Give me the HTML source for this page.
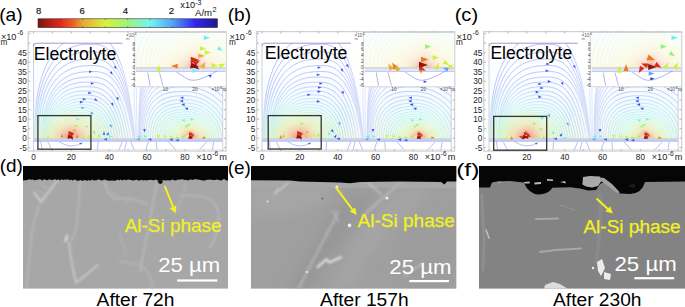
<!DOCTYPE html><html><head><meta charset="utf-8"><style>html,body{margin:0;padding:0;background:#fff;width:685px;height:307px;overflow:hidden}svg{display:block}text{font-family:"Liberation Sans",sans-serif}</style></head><body>
<svg width="685" height="307" viewBox="0 0 685 307">
<defs>
<linearGradient id="cbar" x1="0" x2="1" y1="0" y2="0">
<stop offset="0" stop-color="#7a1410"/><stop offset="0.125" stop-color="#e3291a"/>
<stop offset="0.19" stop-color="#ee5a22"/><stop offset="0.25" stop-color="#e8a834"/>
<stop offset="0.375" stop-color="#d6f23e"/><stop offset="0.5" stop-color="#9ef27a"/>
<stop offset="0.625" stop-color="#72f4f6"/><stop offset="0.75" stop-color="#52a4f4"/>
<stop offset="0.875" stop-color="#3424f2"/><stop offset="1" stop-color="#1e1a8a"/>
</linearGradient>
<radialGradient id="slL" gradientUnits="userSpaceOnUse" cx="71.3" cy="138.2" r="100">
<stop offset="0" stop-color="#f07060"/><stop offset="0.07" stop-color="#f4a888"/><stop offset="0.14" stop-color="#ecdc98"/><stop offset="0.22" stop-color="#c8f0b0"/><stop offset="0.3" stop-color="#98e8f0"/><stop offset="0.42" stop-color="#90c0f8"/><stop offset="0.55" stop-color="#7c8cf2"/><stop offset="1" stop-color="#6470ee"/>
</radialGradient>
<radialGradient id="slR" gradientUnits="userSpaceOnUse" cx="190.5" cy="138.2" r="100">
<stop offset="0" stop-color="#f07060"/><stop offset="0.05" stop-color="#f4a888"/><stop offset="0.1" stop-color="#ecdc98"/><stop offset="0.17" stop-color="#c8f0b0"/><stop offset="0.25" stop-color="#98e8f0"/><stop offset="0.37" stop-color="#90c0f8"/><stop offset="0.5" stop-color="#7c8cf2"/><stop offset="1" stop-color="#6470ee"/>
</radialGradient>
<radialGradient id="sl2" gradientUnits="userSpaceOnUse" cx="194.9" cy="67.5" r="80">
<stop offset="0" stop-color="#e86050"/><stop offset="0.1" stop-color="#f09880"/><stop offset="0.22" stop-color="#f0d890"/><stop offset="0.38" stop-color="#e4f0a0"/><stop offset="0.55" stop-color="#b0eed0"/><stop offset="0.75" stop-color="#a0e8f4"/><stop offset="1" stop-color="#b8e0f8"/>
</radialGradient>
<linearGradient id="wash" x1="0" x2="0" y1="0" y2="1">
<stop offset="0" stop-color="#ffffff" stop-opacity="0"/><stop offset="0.5" stop-color="#eef8ff" stop-opacity="0.5"/><stop offset="0.78" stop-color="#e6fbf6" stop-opacity="0.8"/><stop offset="1" stop-color="#eefbe0" stop-opacity="0.9"/>
</linearGradient>
<linearGradient id="wash2" x1="0" x2="0" y1="0" y2="1">
<stop offset="0" stop-color="#fafefe"/><stop offset="0.6" stop-color="#fdfdf4"/><stop offset="1" stop-color="#fefbf0"/>
</linearGradient>
<radialGradient id="heat">
<stop offset="0" stop-color="#f07c7c" stop-opacity="0.6"/><stop offset="0.22" stop-color="#f6b8b0" stop-opacity="0.5"/><stop offset="0.45" stop-color="#f8e8b8" stop-opacity="0.45"/><stop offset="0.7" stop-color="#f2f8cc" stop-opacity="0.35"/><stop offset="1" stop-color="#eafbe0" stop-opacity="0"/>
</radialGradient>
<radialGradient id="heat2">
<stop offset="0" stop-color="#f09090" stop-opacity="0.28"/><stop offset="0.22" stop-color="#f8c8c0" stop-opacity="0.14"/><stop offset="0.5" stop-color="#faf0d0" stop-opacity="0.08"/><stop offset="1" stop-color="#f8fbe0" stop-opacity="0"/>
</radialGradient>
<clipPath id="elec"><rect x="33.5" y="43.2" width="189.2" height="95.2"/></clipPath>
<clipPath id="elec2"><rect x="135.9" y="33" width="90" height="34.5"/></clipPath>
<filter id="bl" x="-10%" y="-10%" width="120%" height="120%"><feGaussianBlur stdDeviation="0.5"/></filter>
<filter id="bl2" x="-10%" y="-10%" width="120%" height="120%"><feGaussianBlur stdDeviation="6"/></filter>
<filter id="bl3" x="-20%" y="-20%" width="140%" height="140%"><feGaussianBlur stdDeviation="0.9"/></filter>
<linearGradient id="lighten" x1="0" x2="1" y1="0" y2="0"><stop offset="0" stop-color="#fff" stop-opacity="0"/><stop offset="0.3" stop-color="#fff" stop-opacity="0.4"/><stop offset="0.47" stop-color="#fff" stop-opacity="0.7"/><stop offset="0.62" stop-color="#fff" stop-opacity="0.4"/><stop offset="1" stop-color="#fff" stop-opacity="0"/></linearGradient>
<g id="P">
<rect x="28.2" y="31.6" width="197.9" height="119.5" fill="none" stroke="#d2d2d2" stroke-width="1.3"/>
<path d="M28.5 147.7h2M226 147.7h-2M28.5 138.2h2M226 138.2h-2M28.5 128.7h2M226 128.7h-2M28.5 119.2h2M226 119.2h-2M28.5 109.7h2M226 109.7h-2M28.5 100.2h2M226 100.2h-2M28.5 90.7h2M226 90.7h-2M28.5 81.2h2M226 81.2h-2M28.5 71.7h2M226 71.7h-2M28.5 62.2h2M226 62.2h-2M28.5 52.7h2M226 52.7h-2M28.5 43.2h2M226 43.2h-2M28.5 33.7h2M226 33.7h-2M33.5 151v-2M33.5 31.5v2M52.4 151v-2M52.4 31.5v2M71.3 151v-2M71.3 31.5v2M90.3 151v-2M90.3 31.5v2M109.2 151v-2M109.2 31.5v2M128.1 151v-2M128.1 31.5v2M147 151v-2M147 31.5v2M165.9 151v-2M165.9 31.5v2M184.9 151v-2M184.9 31.5v2M203.8 151v-2M203.8 31.5v2M222.7 151v-2M222.7 31.5v2" stroke="#8a8a8a" stroke-width="0.6"/>
<g clip-path="url(#elec)">
<rect x="33.5" y="43.2" width="189.2" height="95" fill="url(#wash)"/>
<ellipse cx="71.3" cy="138.2" rx="50" ry="34" fill="url(#heat)"/>
<ellipse cx="190.5" cy="138.2" rx="30" ry="15" fill="url(#heat)" opacity="0.75"/>
</g>
<path d="M34.8 138.2L35 122.2L35.7 110.4L36.8 100.1L38.3 90.6L40.3 82L42.7 74.1L45.5 66.9L48.7 60.4L52.3 54.7L56.3 49.7L60.7 45.4L63.8 43.2M109.8 43.2L110.9 44.4L113.6 48.3L116.2 52.8L118.6 58.1L120.9 64.1L123.1 70.8L125.2 78.2L127.1 86.5L129 95.8L130.9 106.3L132.7 118.7L135.3 138.2M35.9 138.2L36.2 123.5L36.8 112.7L37.9 103.2L39.4 94.5L41.3 86.6L43.7 79.4L46.4 72.8L49.6 66.9L53.1 61.6L57 57L61.4 53.1L66.1 49.8L71.3 47.3L76.9 45.5L83.4 44.4L92.2 44.1L97.9 44.4L101.7 45.4L105 47L108.1 49.2L110.9 52.2L113.6 55.7L116.1 59.9L118.5 64.7L120.8 70.2L123 76.3L125.1 83.2L127 90.8L128.9 99.3L130.7 108.9L132.5 120.3L135.1 138.2M37.3 138.2L37.5 124.7L38.2 114.8L39.2 106.1L40.7 98.2L42.6 90.9L44.9 84.2L47.5 78.2L50.6 72.8L54.1 67.9L57.9 63.7L62.1 60.1L66.7 57.1L71.8 54.8L77.3 53.2L83.6 52.2L92.2 51.8L97.9 52.1L101.7 53L105 54.5L108 56.6L110.9 59.3L113.5 62.5L116 66.4L118.4 70.8L120.7 75.8L122.9 81.5L124.9 87.7L126.8 94.7L128.7 102.5L130.5 111.3L132.3 121.8L134.8 138.2M38.9 138.2L39.1 125.8L39.7 116.8L40.7 108.7L42.2 101.5L44 94.8L46.2 88.7L48.8 83.2L51.8 78.2L55.2 73.7L58.9 69.8L63 66.6L67.5 63.8L72.4 61.7L77.7 60.2L83.8 59.3L92.2 59L97.9 59.2L101.7 60.1L105 61.4L108 63.3L110.8 65.8L113.4 68.8L115.9 72.3L118.3 76.3L120.6 81L122.7 86.1L124.7 91.9L126.6 98.3L128.4 105.5L130.2 113.5L131.9 123.1L134.3 138.2M40.7 138.2L40.9 126.9L41.5 118.5L42.5 111.2L43.8 104.5L45.6 98.4L47.7 92.8L50.3 87.7L53.1 83.1L56.4 79L60 75.5L64 72.5L68.3 70L73 68L78.2 66.6L84.1 65.8L92.2 65.5L97.9 65.8L101.7 66.5L104.9 67.8L107.9 69.5L110.7 71.8L113.3 74.5L115.8 77.7L118.1 81.5L120.4 85.7L122.5 90.4L124.4 95.7L126.3 101.6L128.1 108.2L129.8 115.6L131.5 124.4L133.8 138.2M42.6 138.2L42.8 127.8L43.4 120.2L44.3 113.4L45.7 107.3L47.4 101.7L49.4 96.5L51.9 91.9L54.6 87.7L57.7 83.9L61.2 80.7L65 77.9L69.2 75.6L73.7 73.8L78.8 72.5L84.4 71.8L92.2 71.5L97.9 71.7L101.6 72.4L104.8 73.6L107.8 75.2L110.6 77.2L113.2 79.8L115.6 82.7L117.9 86.1L120.1 90L122.1 94.4L124.1 99.2L125.9 104.6L127.6 110.6L129.3 117.4L130.9 125.5L133.1 138.2M43.7 138.2L43.9 128.7L44.4 121.7L45.3 115.5L46.6 109.8L48.2 104.7L50.1 100L52.4 95.7L55 91.8L58 88.4L61.3 85.4L64.9 82.9L68.8 80.8L73.1 79.1L77.8 78L83.2 77.3L90.5 77L96.2 77.2L99.9 77.9L103.1 78.9L106 80.4L108.7 82.3L111.3 84.6L113.7 87.3L116 90.4L118.1 94L120.1 98L122 102.4L123.7 107.4L125.4 112.9L127 119.2L128.6 126.6L130.7 138.2M44.8 138.2L45 129.5L45.5 123.1L46.3 117.4L47.5 112.2L49 107.5L50.9 103.2L53 99.2L55.5 95.7L58.3 92.6L61.4 89.8L64.8 87.5L68.5 85.5L72.6 84L77 82.9L82.1 82.3L88.9 82.1L94.5 82.3L98.1 82.9L101.3 83.8L104.2 85.2L106.9 86.9L109.4 89L111.8 91.5L114 94.4L116.1 97.7L118 101.4L119.9 105.5L121.6 110L123.2 115.1L124.7 120.8L126.2 127.6L128.1 138.2M45.9 138.2L46.1 130.5L46.6 124.6L47.4 119.4L48.5 114.7L50 110.3L51.7 106.3L53.8 102.7L56.2 99.4L58.8 96.5L61.7 93.9L65 91.7L68.5 89.9L72.3 88.5L76.5 87.5L81.2 86.9L87.5 86.7L92.8 86.9L96.3 87.4L99.4 88.3L102.3 89.6L105 91.2L107.5 93.2L109.8 95.6L112 98.3L114.1 101.3L116 104.8L117.8 108.6L119.4 112.8L121 117.4L122.4 122.7L123.8 128.9L125.5 138.2M47.1 138.2L47.2 131.3L47.7 126L48.5 121.2L49.6 116.9L50.9 112.9L52.6 109.2L54.6 105.8L56.8 102.7L59.3 100L62.1 97.7L65.2 95.6L68.5 94L72.1 92.7L76 91.7L80.4 91.1L86.1 91L91.1 91.1L94.6 91.6L97.7 92.5L100.5 93.7L103.1 95.2L105.6 97.1L107.9 99.3L110 101.8L112.1 104.6L114 107.8L115.7 111.3L117.3 115.2L118.8 119.5L120.1 124.4L121.4 129.9L123 138.2M48.3 138.2L48.4 132L48.8 127.2L49.6 122.9L50.6 118.9L51.9 115.2L53.5 111.8L55.4 108.6L57.5 105.8L59.9 103.3L62.5 101.1L65.4 99.2L68.6 97.7L71.9 96.4L75.6 95.6L79.7 95L84.9 94.9L89.7 95L93 95.5L96 96.3L98.8 97.4L101.3 98.8L103.7 100.6L106 102.6L108.1 105L110.1 107.6L111.9 110.6L113.6 113.9L115.1 117.5L116.5 121.4L117.8 125.8L119 130.9L120.4 138.2M49.4 138.2L49.6 132.7L50 128.3L50.7 124.3L51.7 120.7L52.9 117.2L54.4 114.1L56.2 111.2L58.2 108.6L60.5 106.3L63 104.2L65.7 102.5L68.6 101L71.8 99.9L75.2 99.1L79 98.6L83.8 98.4L88.3 98.6L91.5 99L94.4 99.8L97.1 100.8L99.6 102.2L102 103.8L104.2 105.7L106.2 107.9L108.1 110.3L109.9 113.1L111.5 116.1L113 119.4L114.3 123.1L115.5 127.1L116.6 131.7L117.7 138.2M50.6 138.2L50.7 133.3L51.1 129.3L51.8 125.6L52.7 122.3L53.9 119.1L55.3 116.2L57 113.6L58.9 111.1L61 109L63.4 107.1L65.9 105.5L68.7 104.1L71.7 103.1L74.9 102.3L78.4 101.9L82.8 101.7L87 101.9L90.1 102.3L92.9 103L95.5 104L97.9 105.2L100.2 106.7L102.3 108.5L104.3 110.5L106.2 112.8L107.9 115.4L109.4 118.2L110.8 121.2L112.1 124.6L113.2 128.3L114.1 132.5L115.1 138.2M51.8 138.2L51.9 133.8L52.3 130.2L52.9 126.8L53.8 123.7L54.9 120.8L56.2 118.2L57.8 115.7L59.6 113.5L61.6 111.5L63.8 109.7L66.2 108.2L68.8 107L71.6 106L74.6 105.3L77.8 104.9L81.8 104.7L85.8 104.9L88.7 105.3L91.4 105.9L94 106.8L96.3 108L98.5 109.4L100.6 111L102.5 112.9L104.3 115.1L105.9 117.4L107.4 120L108.7 122.8L109.8 125.9L110.8 129.3L111.7 133.1L112.6 138.2M52.9 138.2L53 134.2L53.4 130.9L54 127.9L54.8 125L55.9 122.4L57.1 119.9L58.6 117.6L60.3 115.6L62.2 113.7L64.3 112.1L66.5 110.7L68.9 109.6L71.5 108.7L74.3 108L77.3 107.6L80.9 107.5L84.6 107.6L87.5 108L90.1 108.6L92.5 109.4L94.7 110.5L96.8 111.8L98.8 113.4L100.7 115.1L102.4 117.1L103.9 119.3L105.3 121.7L106.5 124.3L107.6 127.1L108.5 130.2L109.3 133.7L110 138.2M54.1 138.2L54.2 134.6L54.5 131.6L55.1 128.8L55.8 126.2L56.8 123.8L58 121.5L59.4 119.4L61 117.5L62.7 115.8L64.7 114.3L66.8 113L69.1 111.9L71.5 111.1L74.1 110.5L76.9 110.2L80.2 110L83.6 110.1L86.3 110.5L88.7 111L91 111.8L93.2 112.8L95.2 114.1L97.1 115.5L98.9 117.1L100.5 118.9L101.9 121L103.3 123.2L104.4 125.6L105.4 128.2L106.3 131L106.9 134.1L107.6 138.2M55.2 138.2L55.3 135L55.6 132.2L56.1 129.7L56.8 127.3L57.7 125L58.9 123L60.2 121L61.6 119.3L63.3 117.7L65.1 116.3L67.1 115.1L69.2 114.1L71.4 113.4L73.8 112.8L76.4 112.5L79.4 112.4L82.6 112.5L85.2 112.8L87.5 113.3L89.7 114L91.7 115L93.7 116.1L95.5 117.4L97.1 118.9L98.6 120.6L100 122.5L101.3 124.5L102.3 126.7L103.3 129.1L104 131.7L104.6 134.6L105.2 138.2M56.2 138.2L56.3 135.3L56.6 132.8L57.1 130.5L57.8 128.3L58.6 126.2L59.7 124.3L60.9 122.5L62.3 120.9L63.8 119.4L65.5 118.1L67.4 117L69.3 116.1L71.4 115.4L73.6 114.9L76 114.6L78.8 114.5L81.7 114.6L84.1 114.9L86.3 115.4L88.4 116L90.3 116.9L92.2 118L93.9 119.2L95.4 120.6L96.9 122.2L98.2 123.9L99.3 125.8L100.3 127.8L101.2 130L101.9 132.4L102.4 135L102.9 138.2M57.2 138.2L57.3 135.6L57.6 133.3L58.1 131.2L58.7 129.2L59.5 127.3L60.5 125.5L61.6 123.8L62.9 122.3L64.3 121L65.9 119.8L67.6 118.8L69.4 118L71.4 117.3L73.4 116.8L75.6 116.5L78.1 116.4L80.9 116.5L83.1 116.8L85.2 117.3L87.2 117.9L89 118.7L90.7 119.7L92.3 120.8L93.8 122.1L95.1 123.5L96.4 125.1L97.4 126.9L98.4 128.7L99.2 130.8L99.8 132.9L100.3 135.3L100.6 138.2M58.2 138.2L58.3 135.8L58.6 133.8L59 131.8L59.6 129.9L60.3 128.2L61.2 126.6L62.3 125.1L63.5 123.7L64.8 122.5L66.3 121.4L67.9 120.4L69.6 119.6L71.4 119L73.3 118.6L75.3 118.3L77.6 118.2L80.1 118.3L82.2 118.6L84.1 119L86 119.6L87.7 120.3L89.3 121.2L90.8 122.3L92.2 123.5L93.5 124.8L94.6 126.3L95.6 127.9L96.5 129.6L97.2 131.5L97.8 133.4L98.2 135.6L98.5 138.2M59.1 138.2L59.2 136.1L59.5 134.2L59.9 132.4L60.4 130.7L61.1 129.1L62 127.6L62.9 126.2L64.1 124.9L65.3 123.8L66.7 122.8L68.1 121.9L69.7 121.2L71.4 120.6L73.1 120.2L75 120L77.1 119.9L79.4 120L81.3 120.2L83.2 120.6L84.9 121.1L86.5 121.8L88 122.7L89.4 123.6L90.7 124.7L91.9 126L93 127.3L93.9 128.8L94.7 130.4L95.4 132.1L95.9 133.9L96.3 135.9L96.5 138.2M60 138.2L60.1 136.3L60.3 134.5L60.7 132.9L61.2 131.3L61.9 129.9L62.6 128.5L63.6 127.2L64.6 126L65.8 125L67 124.1L68.4 123.3L69.8 122.6L71.4 122.1L73 121.7L74.7 121.5L76.6 121.4L78.7 121.5L80.5 121.7L82.2 122.1L83.8 122.6L85.4 123.2L86.8 124L88.1 124.9L89.3 125.9L90.4 127L91.4 128.3L92.3 129.6L93 131.1L93.6 132.6L94.1 134.3L94.5 136.1L94.7 138.2M60.9 138.2L60.9 136.5L61.1 134.9L61.5 133.4L62 131.9L62.6 130.6L63.3 129.3L64.1 128.1L65.1 127.1L66.2 126.1L67.3 125.2L68.6 124.5L69.9 123.9L71.4 123.4L72.9 123.1L74.4 122.9L76.2 122.8L78.1 122.9L79.8 123.1L81.4 123.4L82.9 123.9L84.3 124.4L85.6 125.2L86.8 126L88 126.9L89 128L89.9 129.1L90.7 130.4L91.4 131.7L92 133.2L92.4 134.7L92.7 136.3L92.9 138.2M61.6 138.2L61.7 136.6L61.9 135.2L62.2 133.8L62.7 132.5L63.2 131.2L63.9 130.1L64.7 129L65.6 128L66.6 127.1L67.6 126.3L68.8 125.6L70 125.1L71.4 124.6L72.7 124.3L74.2 124.1L75.8 124.1L77.5 124.1L79.1 124.3L80.6 124.6L82 125L83.3 125.6L84.5 126.2L85.7 127L86.7 127.9L87.7 128.9L88.5 129.9L89.3 131.1L89.9 132.3L90.4 133.6L90.8 135L91.1 136.5L91.2 138.2M62.4 138.2L62.4 136.8L62.6 135.4L62.9 134.2L63.3 133L63.8 131.8L64.5 130.8L65.2 129.8L66 128.9L66.9 128L67.9 127.3L69 126.7L70.2 126.2L71.4 125.8L72.6 125.5L74 125.3L75.4 125.2L77 125.3L78.5 125.5L79.8 125.7L81.1 126.1L82.3 126.6L83.5 127.2L84.5 128L85.5 128.8L86.4 129.7L87.2 130.6L87.9 131.7L88.5 132.8L89 134L89.3 135.3L89.6 136.7L89.7 138.2M63.1 138.2L63.1 136.9L63.3 135.7L63.6 134.5L63.9 133.4L64.4 132.4L65 131.4L65.7 130.5L66.4 129.6L67.3 128.9L68.2 128.2L69.2 127.6L70.2 127.2L71.4 126.8L72.5 126.5L73.7 126.4L75.1 126.3L76.6 126.4L77.9 126.5L79.1 126.8L80.3 127.1L81.5 127.6L82.5 128.2L83.5 128.8L84.4 129.6L85.3 130.4L86 131.3L86.6 132.3L87.2 133.3L87.6 134.4L87.9 135.6L88.1 136.8L88.3 138.2M63.7 138.2L63.8 137L63.9 135.9L64.2 134.8L64.5 133.8L65 132.9L65.5 132L66.1 131.1L66.8 130.4L67.6 129.7L68.5 129L69.4 128.5L70.3 128.1L71.4 127.7L72.4 127.5L73.6 127.3L74.8 127.3L76.1 127.3L77.3 127.5L78.5 127.7L79.6 128.1L80.7 128.5L81.6 129L82.6 129.6L83.4 130.3L84.2 131L84.8 131.9L85.4 132.8L85.9 133.7L86.3 134.7L86.6 135.8L86.8 136.9L86.9 138.2M64.3 138.2L64.3 137.1L64.5 136.1L64.7 135.1L65 134.2L65.5 133.3L66 132.5L66.5 131.7L67.2 131L67.9 130.4L68.7 129.8L69.5 129.3L70.4 128.9L71.4 128.6L72.3 128.4L73.4 128.2L74.5 128.2L75.7 128.2L76.8 128.4L77.9 128.6L78.9 128.9L79.9 129.3L80.8 129.8L81.7 130.3L82.4 131L83.1 131.7L83.8 132.4L84.3 133.2L84.8 134.1L85.1 135L85.4 136L85.6 137.1L85.7 138.2M64.9 138.2L64.9 137.2L65 136.3L65.2 135.4L65.5 134.6L65.9 133.7L66.4 133L66.9 132.3L67.5 131.6L68.2 131L68.9 130.5L69.7 130.1L70.5 129.7L71.4 129.4L72.3 129.2L73.2 129.1L74.2 129L75.4 129.1L76.4 129.2L77.4 129.4L78.3 129.7L79.2 130L80 130.5L80.8 131L81.6 131.6L82.2 132.2L82.8 132.9L83.3 133.7L83.7 134.5L84 135.3L84.3 136.2L84.5 137.2L84.5 138.2M65.4 138.2L65.4 137.3L65.5 136.5L65.7 135.6L66 134.9L66.4 134.1L66.8 133.4L67.3 132.8L67.8 132.2L68.4 131.6L69.1 131.1L69.8 130.7L70.6 130.4L71.4 130.1L72.2 129.9L73.1 129.8L74 129.8L75 129.8L76 129.9L76.9 130.1L77.7 130.4L78.6 130.7L79.3 131.1L80.1 131.6L80.7 132.1L81.3 132.7L81.9 133.4L82.3 134.1L82.7 134.8L83 135.6L83.3 136.4L83.4 137.3L83.5 138.2M65.8 138.2L65.9 137.4L66 136.6L66.2 135.9L66.4 135.1L66.8 134.5L67.1 133.8L67.6 133.2L68.1 132.7L68.7 132.2L69.3 131.7L69.9 131.4L70.6 131L71.4 130.8L72.1 130.6L72.9 130.5L73.8 130.5L74.7 130.5L75.6 130.6L76.4 130.8L77.2 131L78 131.3L78.7 131.7L79.4 132.1L80 132.6L80.5 133.2L81 133.8L81.4 134.4L81.8 135.1L82.1 135.8L82.3 136.6L82.4 137.3L82.5 138.2M66.3 138.2L66.3 137.5L66.4 136.7L66.6 136.1L66.8 135.4L67.1 134.8L67.5 134.2L67.9 133.6L68.4 133.1L68.9 132.7L69.4 132.3L70.1 131.9L70.7 131.6L71.4 131.4L72.1 131.2L72.8 131.1L73.6 131.1L74.4 131.1L75.2 131.2L76 131.4L76.7 131.6L77.4 131.9L78.1 132.2L78.7 132.6L79.3 133.1L79.8 133.6L80.2 134.1L80.6 134.7L81 135.4L81.2 136L81.4 136.7L81.5 137.4L81.6 138.2M66.7 138.2L66.7 137.5L66.8 136.9L67 136.2L67.2 135.6L67.5 135.1L67.8 134.5L68.2 134L68.6 133.6L69.1 133.1L69.6 132.8L70.2 132.4L70.8 132.2L71.4 132L72 131.8L72.7 131.7L73.4 131.7L74.2 131.7L74.9 131.8L75.6 132L76.3 132.2L76.9 132.4L77.5 132.7L78.1 133.1L78.6 133.5L79.1 134L79.5 134.5L79.9 135L80.2 135.6L80.4 136.2L80.6 136.8L80.7 137.5L80.8 138.2M67.1 138.2L67.1 137.6L67.2 137L67.3 136.4L67.5 135.9L67.8 135.3L68.1 134.8L68.4 134.4L68.8 133.9L69.3 133.6L69.7 133.2L70.3 132.9L70.8 132.7L71.4 132.5L72 132.3L72.6 132.3L73.2 132.2L73.9 132.3L74.6 132.3L75.3 132.5L75.9 132.7L76.5 132.9L77 133.2L77.5 133.5L78 133.9L78.5 134.3L78.9 134.8L79.2 135.3L79.5 135.8L79.7 136.4L79.8 137L79.9 137.6L80 138.2M67.4 138.2L67.4 137.6L67.5 137.1L67.7 136.6L67.8 136.1L68.1 135.6L68.3 135.1L68.7 134.7L69 134.3L69.4 133.9L69.9 133.6L70.3 133.4L70.8 133.1L71.4 133L71.9 132.8L72.5 132.7L73.1 132.7L73.7 132.7L74.3 132.8L74.9 132.9L75.5 133.1L76 133.3L76.6 133.6L77 133.9L77.5 134.3L77.9 134.7L78.2 135.1L78.5 135.5L78.8 136L79 136.5L79.2 137.1L79.2 137.6L79.3 138.2M67.7 138.2L67.8 137.7L67.8 137.2L68 136.7L68.1 136.2L68.3 135.8L68.6 135.4L68.9 135L69.2 134.6L69.6 134.3L70 134L70.4 133.8L70.9 133.5L71.4 133.4L71.9 133.3L72.4 133.2L72.9 133.2L73.5 133.2L74.1 133.3L74.6 133.4L75.2 133.5L75.7 133.7L76.1 134L76.6 134.3L77 134.6L77.3 135L77.7 135.4L78 135.8L78.2 136.2L78.4 136.7L78.5 137.2L78.6 137.7L78.6 138.2M68 138.2L68.1 137.7L68.1 137.3L68.2 136.8L68.4 136.4L68.6 136L68.8 135.6L69.1 135.2L69.4 134.9L69.7 134.6L70.1 134.4L70.5 134.1L70.9 133.9L71.4 133.8L71.8 133.7L72.3 133.6L72.8 133.6L73.3 133.6L73.9 133.7L74.4 133.8L74.8 133.9L75.3 134.1L75.7 134.3L76.1 134.6L76.5 134.9L76.9 135.2L77.2 135.6L77.4 136L77.6 136.4L77.8 136.8L77.9 137.3L78 137.7L78 138.2M68.3 138.2L68.3 137.8L68.4 137.3L68.5 136.9L68.6 136.6L68.8 136.2L69 135.8L69.3 135.5L69.6 135.2L69.9 134.9L70.2 134.7L70.6 134.5L71 134.3L71.4 134.1L71.8 134L72.2 134L72.7 134L73.2 134L73.6 134L74.1 134.1L74.5 134.3L75 134.5L75.4 134.7L75.7 134.9L76.1 135.2L76.4 135.5L76.7 135.8L76.9 136.2L77.1 136.5L77.3 136.9L77.4 137.3L77.5 137.8L77.5 138.2M68.5 138.2L68.6 137.8L68.6 137.4L68.7 137L68.8 136.7L69 136.3L69.2 136L69.4 135.7L69.7 135.4L70 135.2L70.3 135L70.6 134.8L71 134.6L71.4 134.5L71.8 134.4L72.1 134.3L72.6 134.3L73 134.3L73.4 134.4L73.9 134.5L74.3 134.6L74.7 134.8L75 135L75.4 135.2L75.7 135.4L76 135.7L76.2 136L76.5 136.3L76.6 136.7L76.8 137L76.9 137.4L77 137.8L77 138.2" fill="none" stroke="url(#slL)" stroke-width="0.45"/>
<path d="M138.7 138.2L138.8 117.2L139.3 103.9L140.1 92.7L141.2 82.7L142.6 73.8L144.4 65.8L146.4 58.6L148.8 52.2L151.5 46.5L153.5 43.2M138.8 138.2L138.9 119.1L139.4 107L140.2 96.8L141.3 87.8L142.7 79.7L144.5 72.4L146.5 65.8L148.9 60L151.6 54.8L154.6 50.4L157.9 46.6L161.7 43.5L162.2 43.2M139 138.2L139.1 120.9L139.6 109.9L140.4 100.6L141.5 92.3L142.9 85L144.6 78.3L146.7 72.4L149 67.1L151.7 62.4L154.7 58.4L158 54.9L161.7 52.1L165.9 49.9L170.6 48.4L176.1 47.4L184.9 47.1L193.7 47.6L202.6 48.9L211.2 51L219.6 54.1L222.7 55.5M139.2 138.2L139.4 122.4L139.9 112.4L140.6 104L141.7 96.5L143.1 89.8L144.9 83.8L146.9 78.4L149.2 73.6L151.9 69.3L154.9 65.6L158.2 62.5L161.9 60L166 58L170.7 56.5L176.2 55.7L184.9 55.4L192.9 55.8L200.9 57L208.8 59L216.4 61.7L222.7 64.7M139.6 138.2L139.8 123.9L140.3 114.8L141 107.1L142.1 100.3L143.5 94.2L145.2 88.7L147.2 83.8L149.5 79.4L152.2 75.6L155.1 72.2L158.4 69.4L162.1 67.1L166.2 65.3L170.8 64L176.3 63.2L184.9 62.9L192.2 63.3L199.5 64.4L206.6 66.2L213.5 68.7L220.2 71.8L222.7 73.3M140.2 138.2L140.3 125.2L140.8 116.9L141.6 109.9L142.6 103.7L144 98.2L145.7 93.2L147.7 88.8L150 84.8L152.6 81.3L155.5 78.2L158.7 75.6L162.4 73.5L166.4 71.9L171 70.7L176.4 70L184.9 69.8L191.5 70.1L198.2 71.1L204.6 72.7L210.9 75L217 77.9L222.7 81.3M140.9 138.2L141 126.4L141.5 118.8L142.2 112.5L143.3 106.9L144.7 101.8L146.3 97.3L148.3 93.3L150.5 89.6L153.1 86.4L156 83.7L159.2 81.3L162.7 79.4L166.7 77.9L171.2 76.9L176.5 76.2L184.9 76L190.9 76.3L196.9 77.2L202.8 78.7L208.6 80.7L214.1 83.3L219.3 86.5L222.7 89M141.8 138.2L141.9 127.4L142.4 120.6L143.1 114.8L144.2 109.7L145.5 105.2L147.1 101L149 97.3L151.2 94.1L153.7 91.1L156.6 88.6L159.7 86.5L163.2 84.8L167.1 83.4L171.5 82.4L176.7 81.8L184.9 81.6L190.4 81.9L195.8 82.7L201.2 84.1L206.4 86L211.4 88.3L216.1 91.2L220.6 94.5L222.7 96.4M142.9 138.2L143 128.4L143.5 122.2L144.2 117L145.2 112.3L146.5 108.2L148.1 104.4L149.9 101.1L152.1 98.1L154.5 95.4L157.3 93.1L160.3 91.2L163.7 89.6L167.5 88.4L171.8 87.5L176.9 87L184.9 86.8L189.9 87L194.8 87.8L199.7 89L204.5 90.7L209 92.9L213.3 95.5L217.3 98.5L221.1 101.8L222.7 103.7M144.3 138.2L144.4 129.4L144.8 123.7L145.5 119L146.5 114.7L147.8 111L149.3 107.5L151.1 104.5L153.2 101.8L155.6 99.3L158.3 97.3L161.2 95.5L164.5 94L168.2 92.9L172.4 92.1L177.3 91.6L185 91.5L189.5 91.7L194 92.4L198.5 93.5L202.8 95L206.9 97L210.8 99.3L214.5 102.1L217.9 105.2L220.9 108.6L222.7 111M146.2 138.2L146.4 130.5L146.8 125.4L147.5 121.1L148.5 117.3L149.7 113.8L151.2 110.6L153 107.8L155.1 105.3L157.4 103.1L160 101.1L162.9 99.5L166.1 98.1L169.7 97.1L173.7 96.3L178.4 95.9L185.5 95.7L189.6 95.9L193.7 96.5L197.7 97.5L201.6 98.9L205.4 100.7L209 102.9L212.3 105.4L215.4 108.2L218.2 111.2L220.6 114.6L222.7 118.1M148.3 138.2L148.5 131.5L148.9 126.9L149.6 123L150.5 119.5L151.7 116.3L153.2 113.4L155 110.8L157 108.5L159.3 106.4L161.8 104.6L164.6 103.1L167.7 101.8L171.1 100.8L175 100.1L179.4 99.7L185.9 99.6L189.7 99.8L193.4 100.3L197.1 101.2L200.6 102.5L204.1 104.1L207.3 106.1L210.3 108.3L213.1 110.9L215.7 113.7L217.9 116.7L219.8 120L221.5 123.4L222.7 126.9M150.5 138.2L150.7 132.4L151.1 128.3L151.7 124.7L152.7 121.5L153.8 118.5L155.3 115.9L157 113.5L158.9 111.3L161.1 109.4L163.6 107.7L166.3 106.3L169.3 105.2L172.6 104.3L176.2 103.6L180.4 103.2L186.3 103.1L189.8 103.3L193.2 103.8L196.5 104.6L199.7 105.8L202.8 107.2L205.8 109L208.5 111.1L211.1 113.4L213.4 115.9L215.4 118.7L217.2 121.6L218.6 124.8L219.8 128L220.6 131.3L221.1 134.8L221.3 138.2M152.8 138.2L152.9 133.1L153.3 129.4L153.9 126.2L154.8 123.2L156 120.6L157.4 118.1L159 115.9L160.9 113.9L163 112.1L165.4 110.6L168 109.3L170.8 108.2L173.9 107.4L177.4 106.8L181.3 106.4L186.7 106.3L189.8 106.4L192.9 106.9L195.9 107.7L198.9 108.7L201.7 110L204.4 111.7L206.9 113.5L209.2 115.6L211.3 117.9L213.2 120.5L214.8 123.2L216.1 126L217.1 128.9L217.9 132L218.4 135.1L218.5 138.2M155.1 138.2L155.2 133.7L155.6 130.4L156.2 127.5L157 124.8L158.1 122.3L159.5 120.1L161.1 118.1L162.8 116.2L164.9 114.6L167.1 113.2L169.6 112L172.3 111L175.2 110.2L178.5 109.6L182.1 109.3L187.1 109.2L189.9 109.3L192.7 109.7L195.5 110.4L198.1 111.4L200.7 112.6L203.1 114.1L205.4 115.8L207.5 117.7L209.4 119.8L211.1 122.1L212.6 124.5L213.8 127.1L214.7 129.8L215.4 132.5L215.8 135.4L216 138.2M157.4 138.2L157.5 134.3L157.8 131.3L158.4 128.6L159.2 126.2L160.3 123.9L161.6 121.9L163.1 120L164.8 118.3L166.7 116.8L168.8 115.5L171.2 114.4L173.7 113.5L176.5 112.8L179.5 112.2L182.9 111.9L187.4 111.8L190 111.9L192.5 112.3L195 113L197.4 113.8L199.8 114.9L202 116.3L204 117.8L206 119.5L207.7 121.5L209.2 123.5L210.6 125.8L211.7 128.1L212.5 130.5L213.1 133.1L213.5 135.6L213.7 138.2M159.6 138.2L159.7 134.7L160.1 132L160.6 129.6L161.4 127.4L162.4 125.4L163.6 123.5L165 121.8L166.6 120.2L168.5 118.8L170.5 117.6L172.7 116.6L175.1 115.7L177.6 115.1L180.5 114.6L183.6 114.3L187.7 114.2L190 114.3L192.3 114.7L194.6 115.2L196.8 116L198.9 117L200.9 118.3L202.8 119.7L204.6 121.2L206.1 123L207.5 124.9L208.7 126.9L209.7 129L210.5 131.2L211.1 133.5L211.4 135.8L211.6 138.2M161.8 138.2L161.9 135.1L162.2 132.7L162.8 130.5L163.5 128.5L164.5 126.7L165.6 124.9L166.9 123.4L168.5 121.9L170.2 120.7L172 119.5L174.1 118.6L176.3 117.8L178.7 117.2L181.4 116.8L184.3 116.5L187.9 116.4L190.1 116.5L192.2 116.8L194.2 117.3L196.2 118.1L198.2 119L200 120.1L201.7 121.3L203.3 122.8L204.7 124.4L206 126.1L207.1 127.9L208 129.9L208.7 131.9L209.2 133.9L209.5 136.1L209.6 138.2M164 138.2L164.1 135.5L164.4 133.3L164.9 131.3L165.5 129.5L166.4 127.8L167.5 126.2L168.7 124.8L170.2 123.5L171.8 122.3L173.5 121.3L175.5 120.4L177.5 119.7L179.8 119.1L182.2 118.7L184.9 118.5L188.2 118.4L190.1 118.5L192 118.8L193.9 119.2L195.7 119.9L197.5 120.7L199.1 121.7L200.7 122.9L202.1 124.2L203.4 125.6L204.6 127.2L205.6 128.9L206.4 130.6L207.1 132.4L207.5 134.3L207.8 136.3L207.9 138.2M166 138.2L166.1 135.8L166.4 133.8L166.8 132L167.5 130.4L168.3 128.8L169.3 127.4L170.5 126.1L171.8 124.9L173.3 123.8L174.9 122.8L176.7 122L178.7 121.4L180.7 120.9L183 120.5L185.4 120.3L188.4 120.2L190.1 120.3L191.9 120.5L193.6 121L195.2 121.6L196.8 122.3L198.4 123.2L199.8 124.3L201.1 125.5L202.3 126.8L203.3 128.2L204.2 129.7L205 131.3L205.6 133L206 134.7L206.2 136.4L206.3 138.2M167.9 138.2L168 136.1L168.3 134.3L168.7 132.7L169.3 131.2L170.1 129.7L171 128.4L172.1 127.2L173.4 126.1L174.7 125.1L176.3 124.3L177.9 123.5L179.7 122.9L181.6 122.4L183.7 122.1L185.9 121.9L188.6 121.8L190.2 121.9L191.8 122.1L193.3 122.5L194.8 123.1L196.3 123.8L197.6 124.6L198.9 125.5L200.1 126.6L201.2 127.8L202.1 129.1L203 130.5L203.6 131.9L204.2 133.4L204.6 135L204.8 136.6L204.9 138.2M169.8 138.2L169.8 136.3L170.1 134.7L170.5 133.2L171 131.9L171.8 130.6L172.6 129.4L173.6 128.3L174.8 127.3L176.1 126.4L177.5 125.6L179 124.9L180.7 124.3L182.4 123.9L184.3 123.6L186.3 123.4L188.8 123.3L190.2 123.4L191.6 123.6L193.1 123.9L194.4 124.4L195.7 125.1L197 125.8L198.2 126.7L199.2 127.7L200.2 128.8L201.1 129.9L201.8 131.2L202.5 132.5L202.9 133.9L203.3 135.3L203.5 136.7L203.6 138.2M171.5 138.2L171.5 136.5L171.8 135.1L172.1 133.7L172.7 132.5L173.3 131.3L174.1 130.2L175.1 129.2L176.1 128.3L177.3 127.5L178.6 126.7L180 126.1L181.6 125.6L183.2 125.2L184.9 124.9L186.7 124.7L188.9 124.7L190.2 124.7L191.5 124.9L192.8 125.2L194.1 125.7L195.3 126.3L196.4 126.9L197.5 127.7L198.5 128.6L199.3 129.6L200.1 130.7L200.8 131.8L201.4 133L201.8 134.3L202.1 135.6L202.3 136.9L202.4 138.2M173.1 138.2L173.1 136.7L173.3 135.4L173.7 134.2L174.2 133L174.8 132L175.5 131L176.4 130.1L177.4 129.2L178.5 128.5L179.7 127.8L181 127.2L182.4 126.7L183.9 126.4L185.4 126.1L187.1 125.9L189.1 125.9L190.3 126L191.5 126.1L192.6 126.4L193.8 126.8L194.8 127.3L195.9 128L196.8 128.7L197.7 129.5L198.5 130.4L199.3 131.4L199.9 132.4L200.4 133.5L200.8 134.6L201.1 135.8L201.3 137L201.3 138.2M174.6 138.2L174.6 136.9L174.8 135.7L175.1 134.6L175.6 133.5L176.1 132.6L176.8 131.7L177.6 130.8L178.5 130L179.5 129.4L180.6 128.7L181.8 128.2L183.1 127.8L184.5 127.5L185.9 127.2L187.4 127.1L189.2 127L190.3 127.1L191.4 127.2L192.4 127.5L193.5 127.9L194.5 128.3L195.4 128.9L196.3 129.6L197.1 130.3L197.8 131.1L198.5 132L199 132.9L199.5 133.9L199.9 135L200.1 136L200.3 137.1L200.3 138.2M175.9 138.2L176 137L176.2 135.9L176.5 134.9L176.9 134L177.4 133.1L178 132.3L178.8 131.5L179.6 130.8L180.5 130.2L181.5 129.6L182.6 129.1L183.8 128.7L185 128.4L186.3 128.2L187.7 128.1L189.3 128L190.3 128.1L191.3 128.2L192.3 128.5L193.2 128.8L194.1 129.2L194.9 129.7L195.7 130.3L196.5 131L197.1 131.7L197.7 132.5L198.3 133.4L198.7 134.3L199 135.2L199.3 136.2L199.4 137.2L199.4 138.2M177.2 138.2L177.3 137.1L177.4 136.2L177.7 135.3L178.1 134.4L178.5 133.6L179.1 132.8L179.8 132.1L180.6 131.5L181.4 130.9L182.3 130.4L183.3 130L184.4 129.6L185.5 129.3L186.7 129.1L188 129L189.4 129L190.3 129L191.2 129.1L192.1 129.4L193 129.7L193.8 130L194.5 130.5L195.3 131.1L195.9 131.7L196.5 132.3L197.1 133.1L197.6 133.8L197.9 134.7L198.2 135.5L198.5 136.4L198.6 137.3L198.6 138.2M178.4 138.2L178.4 137.2L178.6 136.4L178.8 135.6L179.2 134.8L179.6 134L180.1 133.3L180.7 132.7L181.5 132.1L182.2 131.6L183.1 131.1L184 130.7L185 130.4L186 130.1L187.1 129.9L188.3 129.8L189.5 129.8L190.4 129.8L191.2 130L192 130.2L192.7 130.4L193.5 130.8L194.2 131.2L194.8 131.7L195.5 132.3L196 132.9L196.5 133.5L196.9 134.2L197.3 135L197.5 135.8L197.7 136.6L197.9 137.4L197.9 138.2M179.4 138.2L179.5 137.3L179.6 136.6L179.8 135.8L180.2 135.1L180.6 134.4L181.1 133.8L181.6 133.2L182.3 132.7L183 132.2L183.8 131.8L184.6 131.4L185.5 131.1L186.4 130.9L187.4 130.7L188.5 130.6L189.6 130.6L190.4 130.6L191.1 130.7L191.8 130.9L192.5 131.1L193.2 131.5L193.9 131.8L194.5 132.3L195 132.8L195.5 133.4L195.9 134L196.3 134.6L196.7 135.3L196.9 136L197.1 136.7L197.2 137.5L197.2 138.2M180.4 138.2L180.5 137.4L180.6 136.7L180.8 136L181.1 135.4L181.5 134.8L181.9 134.2L182.4 133.7L183 133.2L183.7 132.8L184.4 132.4L185.1 132L186 131.8L186.8 131.5L187.7 131.4L188.7 131.3L189.7 131.3L190.4 131.3L191.1 131.4L191.7 131.6L192.4 131.8L193 132.1L193.5 132.4L194.1 132.8L194.6 133.3L195.1 133.8L195.5 134.3L195.8 134.9L196.1 135.5L196.3 136.2L196.5 136.8L196.6 137.5L196.6 138.2M181.3 138.2L181.4 137.5L181.5 136.9L181.7 136.2L181.9 135.7L182.3 135.1L182.7 134.6L183.2 134.1L183.7 133.7L184.3 133.3L184.9 132.9L185.6 132.6L186.4 132.3L187.2 132.1L188 132L188.8 131.9L189.8 131.9L190.4 131.9L191 132L191.6 132.2L192.2 132.4L192.7 132.6L193.3 132.9L193.8 133.3L194.2 133.7L194.6 134.2L195 134.7L195.3 135.2L195.6 135.8L195.8 136.4L195.9 137L196 137.6L196.1 138.2M182.1 138.2L182.2 137.6L182.3 137L182.5 136.4L182.7 135.9L183 135.4L183.4 134.9L183.8 134.5L184.3 134.1L184.9 133.7L185.4 133.4L186.1 133.1L186.8 132.9L187.5 132.7L188.2 132.6L189 132.5L189.8 132.5L190.4 132.5L191 132.6L191.5 132.7L192 132.9L192.5 133.1L193 133.4L193.5 133.8L193.9 134.1L194.3 134.6L194.6 135L194.9 135.5L195.1 136L195.3 136.5L195.5 137.1L195.5 137.6L195.6 138.2M182.9 138.2L182.9 137.6L183 137.1L183.2 136.6L183.4 136.1L183.7 135.7L184 135.2L184.4 134.8L184.9 134.5L185.4 134.1L185.9 133.8L186.5 133.6L187.1 133.4L187.8 133.2L188.4 133.1L189.2 133L189.9 133L190.4 133L190.9 133.1L191.4 133.2L191.9 133.4L192.4 133.6L192.8 133.9L193.2 134.2L193.6 134.5L193.9 134.9L194.2 135.3L194.5 135.7L194.7 136.2L194.9 136.7L195 137.2L195.1 137.7L195.1 138.2M183.6 138.2L183.6 137.7L183.7 137.2L183.8 136.8L184 136.3L184.3 135.9L184.6 135.5L185 135.1L185.4 134.8L185.8 134.5L186.3 134.2L186.9 134L187.4 133.8L188 133.7L188.6 133.5L189.3 133.5L190 133.5L190.4 133.5L190.9 133.5L191.3 133.7L191.8 133.8L192.2 134L192.6 134.3L193 134.5L193.3 134.8L193.6 135.2L193.9 135.6L194.1 136L194.3 136.4L194.5 136.8L194.6 137.3L194.7 137.7L194.7 138.2M184.2 138.2L184.2 137.7L184.3 137.3L184.4 136.9L184.6 136.5L184.9 136.1L185.2 135.8L185.5 135.4L185.9 135.1L186.3 134.8L186.7 134.6L187.2 134.4L187.7 134.2L188.3 134.1L188.8 134L189.4 133.9L190 133.9L190.4 133.9L190.9 134L191.3 134.1L191.7 134.2L192 134.4L192.4 134.6L192.7 134.9L193.1 135.1L193.3 135.5L193.6 135.8L193.8 136.2L194 136.5L194.1 136.9L194.2 137.4L194.3 137.8L194.3 138.2M184.8 138.2L184.8 137.8L184.9 137.4L185 137L185.2 136.7L185.4 136.3L185.6 136L185.9 135.7L186.3 135.4L186.7 135.1L187.1 134.9L187.5 134.7L188 134.6L188.5 134.4L189 134.4L189.5 134.3L190.1 134.3L190.5 134.3L190.8 134.4L191.2 134.4L191.6 134.6L191.9 134.7L192.2 134.9L192.5 135.2L192.8 135.4L193.1 135.7L193.3 136L193.5 136.4L193.7 136.7L193.8 137.1L193.9 137.4L194 137.8L194 138.2" fill="none" stroke="url(#slR)" stroke-width="0.45"/>
<rect x="112" y="60" width="52" height="78.4" fill="url(#lighten)"/>
<path d="M134.2 88Q134.2 120 136.6 138.2M136.4 88Q136.4 120 137.2 138.2" fill="none" stroke="#b8c4f6" stroke-width="0.4"/>
<path d="M33.5 43.2V149.6M222.7 43.2V149.6" stroke="#c4c4dc" stroke-width="0.8"/>
<path d="M33.5 46.2Q33.5 43.2 36.5 43.2H122.3" fill="none" stroke="#9c9cd0" stroke-width="1"/>
<rect x="33.5" y="138.7" width="189.2" height="2.6" fill="#dde2f8"/>
<path d="M33.5 139.6H222.7M33.5 140.5H222.7" stroke="#aab4ee" stroke-width="0.4"/>
<path d="M33.5 138.5H222.7" stroke="#b8d0a0" stroke-width="0.6"/>
<path d="M33.5 141.3H222.7" stroke="#8494e6" stroke-width="0.5"/>
<path d="M59.2 141.8Q71 149.5 81.9 143M40.8 141.5L42.2 150.5M47.9 142L52.1 150.5M98.2 141.8L97.4 150.5M122.2 141.8L118.7 150.5M126.5 142L124.4 150.5M130.8 141.8L134.4 150.5M148.5 141.8Q146.5 146 145.7 150.5M156.3 142L157 150.5M168.4 142Q173 146 176.2 150.5M206.6 142L198.8 150.5M213.7 142L212.3 150.5" fill="none" stroke="#7080e4" stroke-width="0.5"/>
<path d="M79 143.6L82.5 142.6L81 144.6Z" fill="#3a56f0"/>
<path d="M33.5 149.6H222.7" stroke="#d4d4d4" stroke-width="0.6"/>
<g font-size="8.2" fill="#222"><text x="26.9" y="150.6" text-anchor="end">-5</text><text x="26.9" y="141.1" text-anchor="end">0</text><text x="26.9" y="131.6" text-anchor="end">5</text><text x="26.9" y="122.1" text-anchor="end">10</text><text x="26.9" y="112.6" text-anchor="end">15</text><text x="26.9" y="103.1" text-anchor="end">20</text><text x="26.9" y="93.6" text-anchor="end">25</text><text x="26.9" y="84.1" text-anchor="end">30</text><text x="26.9" y="74.6" text-anchor="end">35</text><text x="26.9" y="65.1" text-anchor="end">40</text><text x="26.9" y="55.6" text-anchor="end">45</text><text x="33.5" y="159.6" text-anchor="middle">0</text><text x="71.3" y="159.6" text-anchor="middle">20</text><text x="109.2" y="159.6" text-anchor="middle">40</text><text x="147" y="159.6" text-anchor="middle">60</text><text x="184.9" y="159.6" text-anchor="middle">80</text></g>
<text x="0.9" y="39.5" font-size="9.2" fill="#222">×10<tspan font-size="6.6" dy="-4.1" dx="0.7">-6</tspan></text>
<text x="0.4" y="45.1" font-size="8.2" fill="#222">m</text>
<text x="196.2" y="160" font-size="9.2" fill="#222">×10<tspan font-size="6.6" dy="-4.1" dx="0.5">-6</tspan><tspan dy="4.1" dx="1.2">m</tspan></text>
<rect x="134.8" y="32.4" width="91.4" height="54.4" fill="#fff" stroke="#cccccc" stroke-width="0.8"/>
<svg x="135.9" y="33.0" width="89.7" height="52.8" overflow="hidden"><g transform="translate(-135.9,-33.0)">
<rect x="135.9" y="32.4" width="90.3" height="35.1" fill="url(#wash2)"/>
<ellipse cx="194.9" cy="67.5" rx="62" ry="34" fill="url(#heat2)" clip-path="url(#elec2)"/>
<path d="M135.9 42.2L138.2 36.6L140.7 32.1M136.1 67.5L136.5 60.1L137.8 52.8L139.8 45.6L142.7 38.8L146.3 32.3L146.4 32.1M140.7 67.5L141.1 60.6L142.3 53.8L144.2 47.2L146.8 40.8L150.2 34.8L152 32.1M145 67.5L145.4 61.1L146.5 54.8L148.2 48.6L150.7 42.7L153.8 37L157.3 32.1M149 67.5L149.4 61.5L150.4 55.6L152 49.9L154.3 44.4L157.2 39.2L160.6 34.3L162.6 32.1M152.7 67.5L153 62L154 56.5L155.5 51.1L157.6 46L160.3 41.1L163.5 36.6L167.2 32.5L167.7 32.1M156.2 67.5L156.5 62.3L157.3 57.2L158.8 52.3L160.8 47.5L163.3 43L166.2 38.8L169.7 34.9L172.8 32.1M159.4 67.5L159.7 62.7L160.5 58L161.8 53.3L163.6 48.9L166 44.7L168.8 40.8L172 37.2L175.5 34L178.2 32.1M162.4 67.5L162.6 63L163.4 58.6L164.6 54.3L166.3 50.2L168.5 46.3L171.1 42.6L174.1 39.3L177.4 36.3L181.1 33.7L184 32.1M219.6 32.1L222.4 33.7L225.9 36.3L227.3 37.7M165.2 67.5L165.4 63.3L166.1 59.2L167.3 55.2L168.9 51.4L170.9 47.8L173.3 44.4L176 41.3L179.1 38.5L182.5 36.1L186.2 34.1L190 32.5L191.4 32.1M212.6 32.1L213.9 32.5L217.6 34.1L221 36.1L224.2 38.5L227.2 41.3L227.3 41.5M167.6 67.5L167.8 63.6L168.4 59.8L169.5 56.1L171 52.5L172.9 49.1L175.1 46L177.7 43.1L180.6 40.5L183.7 38.3L187.1 36.4L190.7 34.9L194.4 33.9L198.2 33.2L202.1 33L205.8 33.2L209.4 33.9L212.9 34.9L216.3 36.4L219.5 38.3L222.5 40.5L225.3 43.1L227.3 45.5M169.5 67.5L169.7 63.9L170.3 60.4L171.3 56.9L172.7 53.6L174.4 50.4L176.5 47.5L178.9 44.8L181.6 42.4L184.5 40.3L187.7 38.6L191 37.2L194.4 36.2L198 35.6L201.6 35.4L205 35.6L208.4 36.2L211.7 37.2L214.8 38.6L217.8 40.3L220.6 42.4L223.2 44.8L225.4 47.5L227.3 50.3M171.3 67.5L171.4 64.2L172 60.9L172.9 57.6L174.2 54.5L175.8 51.6L177.8 48.9L180 46.4L182.5 44.2L185.2 42.2L188.2 40.6L191.3 39.3L194.5 38.4L197.8 37.8L201.1 37.6L204.3 37.8L207.4 38.4L210.5 39.3L213.4 40.6L216.2 42.2L218.8 44.2L221.2 46.4L223.3 48.9L225.1 51.6L226.7 54.5L227.3 56.2M172.9 67.5L173.1 64.4L173.6 61.3L174.5 58.3L175.7 55.4L177.2 52.7L179 50.2L181 47.9L183.4 45.8L185.9 44L188.6 42.5L191.5 41.3L194.5 40.4L197.6 39.9L200.7 39.7L203.6 39.9L206.6 40.4L209.4 41.3L212.1 42.5L214.7 44L217.1 45.8L219.3 47.9L221.3 50.2L223 52.7L224.5 55.4L225.6 58.3L226.4 61.3L226.9 64.4L227.1 67.5M174.4 67.5L174.6 64.6L175.1 61.7L175.9 59L177 56.3L178.4 53.8L180.1 51.4L182 49.2L184.2 47.3L186.5 45.6L189.1 44.2L191.7 43.1L194.5 42.3L197.4 41.8L200.3 41.7L203 41.8L205.7 42.3L208.4 43.1L210.9 44.2L213.3 45.6L215.6 47.3L217.6 49.2L219.5 51.4L221.1 53.8L222.4 56.3L223.5 59L224.2 61.7L224.7 64.6L224.8 67.5M175.9 67.5L176 64.8L176.5 62.2L177.2 59.6L178.3 57.1L179.6 54.7L181.1 52.5L182.9 50.5L184.9 48.7L187.1 47.1L189.5 45.8L192 44.8L194.6 44.1L197.2 43.6L199.9 43.5L202.5 43.6L205 44.1L207.5 44.8L209.8 45.8L212.1 47.1L214.1 48.7L216.1 50.5L217.8 52.5L219.2 54.7L220.5 57.1L221.5 59.6L222.2 62.2L222.6 64.8L222.7 67.5M177.2 67.5L177.3 65L177.8 62.5L178.5 60.1L179.4 57.8L180.6 55.6L182.1 53.6L183.7 51.7L185.6 50L187.7 48.6L189.9 47.4L192.2 46.4L194.6 45.7L197.1 45.3L199.6 45.1L201.9 45.3L204.3 45.7L206.6 46.4L208.8 47.4L210.9 48.6L212.8 50L214.6 51.7L216.2 53.6L217.5 55.6L218.7 57.8L219.6 60.1L220.3 62.5L220.7 65L220.8 67.5M178.4 67.5L178.6 65.2L179 62.9L179.6 60.6L180.5 58.5L181.6 56.4L183 54.5L184.5 52.8L186.3 51.2L188.2 49.9L190.2 48.8L192.4 47.9L194.6 47.2L196.9 46.8L199.2 46.7L201.4 46.8L203.6 47.2L205.8 47.9L207.8 48.8L209.7 49.9L211.6 51.2L213.2 52.8L214.7 54.5L216 56.4L217 58.5L217.9 60.6L218.5 62.9L218.9 65.2L219 67.5M179.6 67.5L179.7 65.3L180.1 63.2L180.7 61.1L181.5 59.1L182.5 57.2L183.8 55.4L185.2 53.8L186.9 52.4L188.6 51.1L190.5 50.1L192.5 49.2L194.6 48.6L196.8 48.3L198.9 48.2L201 48.3L203 48.6L205 49.2L206.9 50.1L208.7 51.1L210.4 52.4L211.9 53.8L213.3 55.4L214.5 57.2L215.5 59.1L216.3 61.1L216.9 63.2L217.2 65.3L217.3 67.5M180.7 67.5L180.8 65.5L181.1 63.5L181.7 61.6L182.4 59.7L183.4 57.9L184.6 56.3L185.9 54.8L187.4 53.4L189.1 52.3L190.8 51.3L192.7 50.5L194.6 50L196.6 49.6L198.6 49.5L200.6 49.6L202.5 50L204.3 50.5L206.1 51.3L207.7 52.3L209.3 53.4L210.7 54.8L212 56.3L213.1 57.9L214.1 59.7L214.8 61.6L215.3 63.5L215.6 65.5L215.7 67.5M181.6 67.5L181.7 65.6L182.1 63.8L182.6 62L183.3 60.2L184.2 58.6L185.3 57.1L186.5 55.7L187.9 54.4L189.5 53.3L191.1 52.4L192.9 51.7L194.7 51.2L196.5 50.9L198.4 50.8L200.2 50.9L201.9 51.2L203.6 51.7L205.3 52.4L206.9 53.3L208.3 54.4L209.6 55.7L210.8 57.1L211.9 58.6L212.7 60.2L213.4 62L213.9 63.8L214.2 65.6L214.3 67.5M182.6 67.5L182.7 65.8L183 64L183.4 62.4L184.1 60.7L185 59.2L186 57.8L187.1 56.5L188.4 55.3L189.9 54.3L191.4 53.5L193 52.8L194.7 52.3L196.4 52L198.1 51.9L199.8 52L201.4 52.3L203 52.8L204.6 53.5L206 54.3L207.4 55.3L208.6 56.5L209.7 57.8L210.7 59.2L211.5 60.7L212.1 62.4L212.6 64L212.8 65.8L212.9 67.5M183.4 67.5L183.5 65.9L183.8 64.3L184.2 62.7L184.9 61.2L185.7 59.8L186.6 58.5L187.7 57.3L188.9 56.2L190.2 55.2L191.6 54.4L193.1 53.8L194.7 53.4L196.3 53.1L197.9 53L199.5 53.1L201 53.4L202.5 53.8L203.9 54.4L205.2 55.2L206.5 56.2L207.7 57.3L208.7 58.5L209.6 59.8L210.3 61.2L210.9 62.7L211.3 64.3L211.6 65.9L211.7 67.5M184.2 67.5L184.3 66L184.6 64.5L185 63L185.6 61.7L186.3 60.3L187.2 59.1L188.2 58L189.3 57L190.5 56.1L191.9 55.4L193.3 54.8L194.7 54.4L196.2 54.1L197.7 54L199.1 54.1L200.6 54.4L201.9 54.8L203.3 55.4L204.5 56.1L205.7 57L206.8 58L207.7 59.1L208.5 60.3L209.2 61.7L209.8 63L210.2 64.5L210.4 66L210.5 67.5M185 67.5L185.1 66.1L185.3 64.7L185.7 63.4L186.2 62.1L186.9 60.8L187.7 59.7L188.6 58.6L189.7 57.7L190.8 56.9L192.1 56.2L193.4 55.7L194.7 55.3L196.1 55L197.5 55L198.8 55L200.2 55.3L201.4 55.7L202.7 56.2L203.8 56.9L204.9 57.7L205.9 58.6L206.8 59.7L207.6 60.8L208.2 62.1L208.8 63.4L209.1 64.7L209.3 66.1L209.4 67.5M185.7 67.5L185.7 66.2L186 64.9L186.3 63.6L186.8 62.4L187.5 61.3L188.2 60.2L189.1 59.3L190.1 58.4L191.1 57.6L192.3 57L193.5 56.5L194.7 56.1L196 55.9L197.3 55.8L198.6 55.9L199.8 56.1L201 56.5L202.1 57L203.2 57.6L204.2 58.4L205.2 59.3L206 60.2L206.7 61.3L207.3 62.4L207.8 63.6L208.1 64.9L208.3 66.2L208.4 67.5M186.3 67.5L186.4 66.3L186.6 65.1L186.9 63.9L187.4 62.8L188 61.7L188.7 60.7L189.5 59.8L190.4 59L191.4 58.3L192.5 57.7L193.6 57.3L194.7 56.9L195.9 56.7L197.2 56.7L198.3 56.7L199.5 56.9L200.6 57.3L201.6 57.7L202.6 58.3L203.6 59L204.4 59.8L205.2 60.7L205.9 61.7L206.4 62.8L206.9 63.9L207.2 65.1L207.4 66.3L207.5 67.5M186.9 67.5L187 66.4L187.2 65.3L187.5 64.2L187.9 63.1L188.5 62.1L189.1 61.2L189.9 60.4L190.7 59.6L191.6 59L192.6 58.4L193.7 58L194.8 57.7L195.9 57.5L197 57.4L198.1 57.5L199.1 57.7L200.2 58L201.2 58.4L202.1 59L203 59.6L203.8 60.4L204.5 61.2L205.1 62.1L205.6 63.1L206.1 64.2L206.3 65.3L206.5 66.4L206.6 67.5M187.5 67.5L187.5 66.4L187.7 65.4L188 64.4L188.4 63.4L188.9 62.5L189.5 61.6L190.2 60.9L191 60.2L191.9 59.6L192.8 59L193.8 58.6L194.8 58.3L195.8 58.2L196.9 58.1L197.9 58.2L198.8 58.3L199.8 58.6L200.7 59L201.6 59.6L202.4 60.2L203.2 60.9L203.8 61.6L204.4 62.5L204.9 63.4L205.3 64.4L205.6 65.4L205.7 66.4L205.8 67.5M188 67.5L188 66.5L188.2 65.6L188.5 64.6L188.9 63.7L189.3 62.9L189.9 62.1L190.5 61.3L191.3 60.7L192.1 60.1L192.9 59.6L193.8 59.3L194.8 59L195.7 58.8L196.7 58.8L197.6 58.8L198.6 59L199.5 59.3L200.3 59.6L201.1 60.1L201.9 60.7L202.6 61.3L203.2 62.1L203.7 62.9L204.2 63.7L204.6 64.6L204.8 65.6L205 66.5L205 67.5M188.5 67.5L188.5 66.6L188.7 65.7L188.9 64.8L189.3 64L189.7 63.2L190.2 62.4L190.8 61.8L191.5 61.1L192.3 60.6L193.1 60.2L193.9 59.8L194.8 59.6L195.7 59.4L196.6 59.4L197.5 59.4L198.3 59.6L199.1 59.8L199.9 60.2L200.7 60.6L201.4 61.1L202 61.8L202.6 62.4L203.1 63.2L203.5 64L203.9 64.8L204.1 65.7L204.3 66.6L204.3 67.5M188.9 67.5L189 66.7L189.1 65.8L189.3 65L189.7 64.2L190.1 63.5L190.6 62.8L191.1 62.2L191.8 61.6L192.5 61.1L193.2 60.7L194 60.4L194.8 60.1L195.6 60L196.5 59.9L197.3 60L198.1 60.1L198.8 60.4L199.6 60.7L200.3 61.1L201 61.6L201.6 62.2L202.1 62.8L202.6 63.5L202.9 64.2L203.3 65L203.5 65.8L203.6 66.7L203.7 67.5M189.3 67.5L189.4 66.7L189.5 65.9L189.7 65.2L190 64.4L190.4 63.8L190.9 63.1L191.4 62.5L192 62L192.6 61.5L193.3 61.2L194 60.9L194.8 60.6L195.6 60.5L196.4 60.5L197.1 60.5L197.9 60.6L198.6 60.9L199.3 61.2L199.9 61.5L200.5 62L201.1 62.5L201.6 63.1L202 63.8L202.4 64.4L202.7 65.2L202.9 65.9L203 66.7L203 67.5M189.7 67.5L189.8 66.8L189.9 66L190.1 65.3L190.4 64.7L190.7 64L191.1 63.4L191.6 62.9L192.2 62.4L192.8 62L193.4 61.6L194.1 61.3L194.8 61.1L195.5 61L196.3 61L197 61L197.6 61.1L198.3 61.3L199 61.6L199.6 62L200.1 62.4L200.7 62.9L201.1 63.4L201.5 64L201.9 64.7L202.1 65.3L202.3 66L202.4 66.8L202.5 67.5M190.1 67.5L190.1 66.8L190.2 66.1L190.4 65.5L190.7 64.9L191 64.3L191.4 63.7L191.9 63.2L192.4 62.7L192.9 62.3L193.5 62L194.2 61.8L194.8 61.6L195.5 61.5L196.2 61.4L196.8 61.5L197.5 61.6L198.1 61.8L198.7 62L199.2 62.3L199.8 62.7L200.3 63.2L200.7 63.7L201.1 64.3L201.4 64.9L201.6 65.5L201.8 66.1L201.9 66.8L201.9 67.5M190.4 67.5L190.5 66.9L190.6 66.2L190.7 65.6L191 65L191.3 64.5L191.7 64L192.1 63.5L192.6 63.1L193.1 62.7L193.6 62.4L194.2 62.2L194.8 62L195.4 61.9L196.1 61.8L196.7 61.9L197.3 62L197.9 62.2L198.4 62.4L198.9 62.7L199.4 63.1L199.9 63.5L200.3 64L200.6 64.5L200.9 65L201.2 65.6L201.3 66.2L201.4 66.9L201.5 67.5M190.7 67.5L190.8 66.9L190.9 66.3L191 65.8L191.3 65.2L191.5 64.7L191.9 64.2L192.3 63.8L192.7 63.4L193.2 63L193.7 62.8L194.3 62.5L194.8 62.4L195.4 62.3L196 62.2L196.6 62.3L197.1 62.4L197.6 62.5L198.2 62.8L198.7 63L199.1 63.4L199.5 63.8L199.9 64.2L200.2 64.7L200.5 65.2L200.7 65.8L200.9 66.3L201 66.9L201 67.5M191 67.5L191.1 67L191.1 66.4L191.3 65.9L191.5 65.4L191.8 64.9L192.1 64.4L192.5 64L192.9 63.7L193.3 63.4L193.8 63.1L194.3 62.9L194.8 62.7L195.4 62.6L195.9 62.6L196.4 62.6L197 62.7L197.5 62.9L197.9 63.1L198.4 63.4L198.8 63.7L199.2 64L199.6 64.4L199.9 64.9L200.1 65.4L200.3 65.9L200.5 66.4L200.5 67L200.6 67.5M191.3 67.5L191.3 67L191.4 66.5L191.5 66L191.7 65.5L192 65.1L192.3 64.7L192.6 64.3L193 63.9L193.4 63.6L193.9 63.4L194.3 63.2L194.8 63.1L195.3 63L195.8 62.9L196.3 63L196.8 63.1L197.3 63.2L197.7 63.4L198.2 63.6L198.5 63.9L198.9 64.3L199.2 64.7L199.5 65.1L199.7 65.5L199.9 66L200.1 66.5L200.1 67L200.2 67.5M191.5 67.5L191.6 67L191.7 66.6L191.8 66.1L192 65.7L192.2 65.2L192.5 64.9L192.8 64.5L193.1 64.2L193.5 63.9L193.9 63.7L194.4 63.5L194.8 63.4L195.3 63.3L195.8 63.3L196.2 63.3L196.7 63.4L197.1 63.5L197.5 63.7L197.9 63.9L198.3 64.2L198.6 64.5L198.9 64.9L199.2 65.2L199.4 65.7L199.6 66.1L199.7 66.6L199.8 67L199.8 67.5M191.8 67.5L191.8 67.1L191.9 66.6L192 66.2L192.2 65.8L192.4 65.4L192.6 65L192.9 64.7L193.3 64.4L193.6 64.2L194 63.9L194.4 63.8L194.8 63.7L195.3 63.6L195.7 63.6L196.1 63.6L196.6 63.7L197 63.8L197.3 63.9L197.7 64.2L198.1 64.4L198.4 64.7L198.6 65L198.9 65.4L199.1 65.8L199.3 66.2L199.4 66.6L199.4 67.1L199.5 67.5M192 67.5L192 67.1L192.1 66.7L192.2 66.3L192.4 65.9L192.6 65.5L192.8 65.2L193.1 64.9L193.4 64.6L193.7 64.4L194.1 64.2L194.5 64L194.8 63.9L195.3 63.9L195.7 63.8L196.1 63.9L196.4 63.9L196.8 64L197.2 64.2L197.5 64.4L197.8 64.6L198.1 64.9L198.4 65.2L198.6 65.5L198.8 65.9L199 66.3L199.1 66.7L199.1 67.1L199.1 67.5M192.2 67.5L192.2 67.1L192.3 66.7L192.4 66.4L192.5 66L192.7 65.7L192.9 65.4L193.2 65.1L193.5 64.8L193.8 64.6L194.1 64.4L194.5 64.3L194.9 64.2L195.2 64.1L195.6 64.1L196 64.1L196.3 64.2L196.7 64.3L197 64.4L197.3 64.6L197.6 64.8L197.9 65.1L198.1 65.4L198.4 65.7L198.5 66L198.7 66.4L198.8 66.7L198.8 67.1L198.9 67.5M192.4 67.5L192.4 67.1L192.5 66.8L192.6 66.5L192.7 66.1L192.9 65.8L193.1 65.5L193.3 65.3L193.6 65L193.9 64.8L194.2 64.6L194.5 64.5L194.9 64.4L195.2 64.3L195.6 64.3L195.9 64.3L196.2 64.4L196.6 64.5L196.9 64.6L197.2 64.8L197.4 65L197.7 65.3L197.9 65.5L198.1 65.8L198.3 66.1L198.4 66.5L198.5 66.8L198.6 67.1L198.6 67.5M192.6 67.5L192.6 67.2L192.6 66.8L192.7 66.5L192.9 66.2L193 65.9L193.2 65.7L193.4 65.4L193.7 65.2L193.9 65L194.2 64.8L194.5 64.7L194.9 64.6L195.2 64.6L195.5 64.5L195.8 64.6L196.1 64.6L196.4 64.7L196.7 64.8L197 65L197.3 65.2L197.5 65.4L197.7 65.7L197.9 65.9L198 66.2L198.2 66.5L198.2 66.8L198.3 67.2L198.3 67.5M192.7 67.5L192.7 67.2L192.8 66.9L192.9 66.6L193 66.3L193.1 66L193.3 65.8L193.5 65.6L193.8 65.4L194 65.2L194.3 65L194.6 64.9L194.9 64.8L195.2 64.8L195.5 64.8L195.8 64.8L196.1 64.8L196.3 64.9L196.6 65L196.9 65.2L197.1 65.4L197.3 65.6L197.5 65.8L197.7 66L197.8 66.3L197.9 66.6L198 66.9L198.1 67.2L198.1 67.5M192.9 67.5L192.9 67.2L192.9 66.9L193 66.7L193.1 66.4L193.3 66.1L193.4 65.9L193.6 65.7L193.8 65.5L194.1 65.3L194.3 65.2L194.6 65.1L194.9 65L195.1 65L195.4 64.9L195.7 65L196 65L196.2 65.1L196.5 65.2L196.7 65.3L196.9 65.5L197.1 65.7L197.3 65.9L197.5 66.1L197.6 66.4L197.7 66.7L197.8 66.9L197.8 67.2L197.9 67.5M193 67.5L193 67.2L193.1 67L193.2 66.7L193.3 66.5L193.4 66.2L193.5 66L193.7 65.8L193.9 65.6L194.1 65.5L194.4 65.4L194.6 65.3L194.9 65.2L195.1 65.1L195.4 65.1L195.6 65.1L195.9 65.2L196.1 65.3L196.4 65.4L196.6 65.5L196.8 65.6L197 65.8L197.2 66L197.3 66.2L197.4 66.5L197.5 66.7L197.6 67L197.6 67.2L197.7 67.5" fill="none" stroke="url(#sl2)" stroke-width="0.4" stroke-opacity="0.5"/>
<rect x="135.9" y="67.9" width="90.3" height="3.6" fill="#e2e6f8"/>
<path d="M135.9 67.8H226.2" stroke="#a8a888" stroke-width="0.6"/>
<path d="M135.9 71.5H226.2" stroke="#98a4e8" stroke-width="0.5"/>
<path d="M176.6 72.1C186.1 77.8 187.5 80.5 194.3 80.2S209.7 74.9 217 71M147.7 72.5L150.1 85.8M159.5 72.5L163 85.8" fill="none" stroke="#5a6ae0" stroke-width="0.5"/>
</g></svg>
<g font-size="4.6" fill="#444"><text x="135" y="86.8" text-anchor="end" font-size="4.6">-6</text><text x="135" y="80.9" text-anchor="end" font-size="4.6">-4</text><text x="135" y="75" text-anchor="end" font-size="4.6">-2</text><text x="135" y="69.1" text-anchor="end" font-size="4.6">0</text><text x="135" y="63.2" text-anchor="end" font-size="4.6">2</text><text x="135" y="57.3" text-anchor="end" font-size="4.6">4</text><text x="135" y="51.4" text-anchor="end" font-size="4.6">6</text><text x="135" y="45.5" text-anchor="end" font-size="4.6">8</text><text x="165.4" y="91" text-anchor="middle">10</text><text x="194.9" y="91" text-anchor="middle">20</text></g>
<text x="211.5" y="91" font-size="4.6" fill="#444">×10<tspan font-size="3.2" dy="-1.8">-6</tspan><tspan dy="1.8" dx="0.6">m</tspan></text>
<text x="126" y="36.6" font-size="4.6" fill="#555">×10<tspan font-size="3.2" dy="-1.8">-6</tspan></text><text x="126" y="40" font-size="4.4" fill="#777">m</text>
</g>
</defs>
<rect x="38" y="18.8" width="179.4" height="8.8" fill="url(#cbar)" stroke="#333" stroke-width="0.6"/>
<path d="M60.4 18.8v1.2M60.4 27.6v-1.2M82.8 18.8v1.2M82.8 27.6v-1.2M105.3 18.8v1.2M105.3 27.6v-1.2M127.7 18.8v1.2M127.7 27.6v-1.2M150.1 18.8v1.2M150.1 27.6v-1.2M172.6 18.8v1.2M172.6 27.6v-1.2M195 18.8v1.2M195 27.6v-1.2" stroke="#333" stroke-width="0.6"/>
<text x="38.7" y="13.9" font-size="9.5" text-anchor="middle" fill="#111" stroke="#111" stroke-width="0.15">8</text>
<text x="82.2" y="13.9" font-size="9.5" text-anchor="middle" fill="#111" stroke="#111" stroke-width="0.15">6</text>
<text x="125.3" y="13.9" font-size="9.5" text-anchor="middle" fill="#111" stroke="#111" stroke-width="0.15">4</text>
<text x="171.5" y="13.9" font-size="9.5" text-anchor="middle" fill="#111" stroke="#111" stroke-width="0.15">2</text>
<text x="180.3" y="7.9" font-size="9.2" fill="#111">x10<tspan font-size="7" dy="-3.3">-3</tspan></text>
<text x="195" y="15.6" font-size="9.6" fill="#111">A/m<tspan font-size="7.4" dy="-3.5" dx="0.4">2</tspan></text>
<use href="#P" x="0"/>
<text x="-0.8" y="21.2" font-size="19" textLength="23.4" lengthAdjust="spacingAndGlyphs">(a)</text>
<use href="#P" x="228.5"/>
<text x="227.7" y="21.2" font-size="19" textLength="23.4" lengthAdjust="spacingAndGlyphs">(b)</text>
<use href="#P" x="455.5"/>
<text x="454.7" y="21.2" font-size="19" textLength="23.4" lengthAdjust="spacingAndGlyphs">(c)</text>
<text x="33.7" y="59.8" font-size="17.5" textLength="82.6" lengthAdjust="spacingAndGlyphs">Electrolyte</text>
<text x="264.8" y="59.2" font-size="17.5" textLength="82.6" lengthAdjust="spacingAndGlyphs">Electrolyte</text>
<text x="490.4" y="59.4" font-size="17.5" textLength="81.8" lengthAdjust="spacingAndGlyphs">Electrolyte</text>
<path d="M179.9 97.8L183.4 96.5L183.4 99.1Z" fill="#3a56f0"/><path d="M179.6 101.1L183.1 99.8L183.1 102.4Z" fill="#3a56f0"/><path d="M181.1 104.6L184.6 103.3L184.6 105.9Z" fill="#3a56f0"/><path d="M184.6 107.8L188.3 107.8L187.5 110.2Z" fill="#3a56f0"/><path d="M181.5 119.5L185.2 119.5L184.4 121.9Z" fill="#66f0f0"/><path d="M194.1 119.2L190.6 120.5L190.6 117.9Z" fill="#66f0f0"/><path d="M190.7 123.8L188.3 126.6L187.1 124.4Z" fill="#9af270"/><path d="M188.4 125.2L186 128.1L184.8 125.9Z" fill="#9af270"/><path d="M188.4 131.5L192.1 131.5L191.3 133.9Z" fill="#e4b234"/><path d="M194.4 134.2L189.1 136.1L189.1 132.3Z" fill="#d42a14"/><path d="M194.4 134.9L191 139L189.2 135.8Z" fill="#d42a14"/><path d="M193.1 138.8L188.2 138.8L189.3 135.6Z" fill="#8e1410"/><path d="M206.3 137.8L202.8 139.1L202.8 136.5Z" fill="#ee7a22"/><path d="M158.3 138.4L157 134.9L159.6 134.9Z" fill="#cdf23c"/><path d="M167.3 136.3L163.8 137.6L163.8 135Z" fill="#cdf23c"/><path d="M173.4 137L169.9 138.3L169.9 135.7Z" fill="#cdf23c"/><path d="M179.5 137.8L176 139.1L176 136.5Z" fill="#9af270"/><path d="M185.3 135.2L182.9 138.1L181.7 135.9Z" fill="#9af270"/><path d="M169.2 139.6L172.7 138.3L172.7 140.9Z" fill="#3a56f0"/><path d="M175.3 140.3L178.8 139L178.8 141.6Z" fill="#3a56f0"/><path d="M144.5 132.6L143.2 129.1L145.8 129.1Z" fill="#3a56f0"/><path d="M137.1 136.6L140.6 135.3L140.6 137.9Z" fill="#66f0f0"/><path d="M147.4 136.3L143.9 137.6L143.9 135Z" fill="#66f0f0"/><path d="M136.3 139.3L139.8 138L139.8 140.6Z" fill="#56a8f6"/><path d="M147.9 139.5L151.4 138.2L151.4 140.8Z" fill="#3a56f0"/><path d="M408.4 97.8L411.9 96.5L411.9 99.1Z" fill="#3a56f0"/><path d="M408.1 101.1L411.6 99.8L411.6 102.4Z" fill="#3a56f0"/><path d="M409.6 104.6L413.1 103.3L413.1 105.9Z" fill="#3a56f0"/><path d="M413.1 107.8L416.8 107.8L416 110.2Z" fill="#3a56f0"/><path d="M410 119.5L413.7 119.5L412.9 121.9Z" fill="#66f0f0"/><path d="M422.6 119.2L419.1 120.5L419.1 117.9Z" fill="#66f0f0"/><path d="M419.2 123.8L416.8 126.6L415.6 124.4Z" fill="#9af270"/><path d="M416.9 125.2L414.5 128.1L413.3 125.9Z" fill="#9af270"/><path d="M416.9 131.5L420.6 131.5L419.8 133.9Z" fill="#e4b234"/><path d="M422.9 134.2L417.6 136.1L417.6 132.3Z" fill="#d42a14"/><path d="M422.9 134.9L419.5 139L417.7 135.8Z" fill="#d42a14"/><path d="M421.6 138.8L416.7 138.8L417.8 135.6Z" fill="#8e1410"/><path d="M434.8 137.8L431.3 139.1L431.3 136.5Z" fill="#ee7a22"/><path d="M386.8 138.4L385.5 134.9L388.1 134.9Z" fill="#cdf23c"/><path d="M395.8 136.3L392.3 137.6L392.3 135Z" fill="#cdf23c"/><path d="M401.9 137L398.4 138.3L398.4 135.7Z" fill="#cdf23c"/><path d="M408 137.8L404.5 139.1L404.5 136.5Z" fill="#9af270"/><path d="M413.8 135.2L411.4 138.1L410.2 135.9Z" fill="#9af270"/><path d="M397.7 139.6L401.2 138.3L401.2 140.9Z" fill="#3a56f0"/><path d="M403.8 140.3L407.3 139L407.3 141.6Z" fill="#3a56f0"/><path d="M373 132.6L371.7 129.1L374.3 129.1Z" fill="#3a56f0"/><path d="M365.6 136.6L369.1 135.3L369.1 137.9Z" fill="#66f0f0"/><path d="M375.9 136.3L372.4 137.6L372.4 135Z" fill="#66f0f0"/><path d="M364.8 139.3L368.3 138L368.3 140.6Z" fill="#56a8f6"/><path d="M376.4 139.5L379.9 138.2L379.9 140.8Z" fill="#3a56f0"/><path d="M635.4 97.8L638.9 96.5L638.9 99.1Z" fill="#3a56f0"/><path d="M635.1 101.1L638.6 99.8L638.6 102.4Z" fill="#3a56f0"/><path d="M636.6 104.6L640.1 103.3L640.1 105.9Z" fill="#3a56f0"/><path d="M640.1 107.8L643.8 107.8L643 110.2Z" fill="#3a56f0"/><path d="M637 119.5L640.7 119.5L639.9 121.9Z" fill="#66f0f0"/><path d="M649.6 119.2L646.1 120.5L646.1 117.9Z" fill="#66f0f0"/><path d="M646.2 123.8L643.8 126.6L642.6 124.4Z" fill="#9af270"/><path d="M643.9 125.2L641.5 128.1L640.3 125.9Z" fill="#9af270"/><path d="M643.9 131.5L647.6 131.5L646.8 133.9Z" fill="#e4b234"/><path d="M649.9 134.2L644.6 136.1L644.6 132.3Z" fill="#d42a14"/><path d="M649.9 134.9L646.5 139L644.7 135.8Z" fill="#d42a14"/><path d="M648.6 138.8L643.7 138.8L644.8 135.6Z" fill="#8e1410"/><path d="M661.8 137.8L658.3 139.1L658.3 136.5Z" fill="#ee7a22"/><path d="M613.8 138.4L612.5 134.9L615.1 134.9Z" fill="#cdf23c"/><path d="M622.8 136.3L619.3 137.6L619.3 135Z" fill="#cdf23c"/><path d="M628.9 137L625.4 138.3L625.4 135.7Z" fill="#cdf23c"/><path d="M635 137.8L631.5 139.1L631.5 136.5Z" fill="#9af270"/><path d="M640.8 135.2L638.4 138.1L637.2 135.9Z" fill="#9af270"/><path d="M624.7 139.6L628.2 138.3L628.2 140.9Z" fill="#3a56f0"/><path d="M630.8 140.3L634.3 139L634.3 141.6Z" fill="#3a56f0"/><path d="M600 132.6L598.7 129.1L601.3 129.1Z" fill="#3a56f0"/><path d="M592.6 136.6L596.1 135.3L596.1 137.9Z" fill="#66f0f0"/><path d="M602.9 136.3L599.4 137.6L599.4 135Z" fill="#66f0f0"/><path d="M591.8 139.3L595.3 138L595.3 140.6Z" fill="#56a8f6"/><path d="M603.4 139.5L606.9 138.2L606.9 140.8Z" fill="#3a56f0"/>
<path d="M92.5 71.8L89 73.1L89 70.5Z" fill="#3a56f0"/><path d="M112.5 74.8L109.7 72.4L111.9 71.2Z" fill="#3a56f0"/><path d="M116.5 69.3L113.6 66.9L115.8 65.7Z" fill="#3a56f0"/><path d="M94.3 83.5L90.8 84.8L90.8 82.2Z" fill="#3a56f0"/><path d="M91.8 93L88.3 94.3L88.3 91.7Z" fill="#3a56f0"/><path d="M97.8 101L94.2 100.3L95.4 98.1Z" fill="#3a56f0"/><path d="M118.4 100.7L116 97.8L118.4 97Z" fill="#3a56f0"/><path d="M86.3 99.2L82.8 100.5L82.8 97.9Z" fill="#3a56f0"/><path d="M83.4 102.1L79.9 103.4L79.9 100.8Z" fill="#3a56f0"/><path d="M84.9 107.8L81.4 109.1L81.4 106.5Z" fill="#56a8f6"/><path d="M93.6 114.8L90.1 113.6L91.8 111.6Z" fill="#56a8f6"/><path d="M113.5 106.2L110.7 103.8L112.9 102.6Z" fill="#3a56f0"/><path d="M112 127.8L109.1 125.4L111.3 124.2Z" fill="#56a8f6"/><path d="M80 119.1L76.5 120.4L76.5 117.8Z" fill="#66f0f0"/><path d="M78.4 126L74.9 127.3L74.9 124.7Z" fill="#9af270"/><path d="M88.7 125.2L86.3 128.1L85.1 125.9Z" fill="#9af270"/><path d="M76.7 131.2L73 131.2L73.8 128.8Z" fill="#e4b234"/><path d="M74.2 133.2L68.5 135.3L68.5 131.1Z" fill="#d42a14"/><path d="M74.1 133.7L70.7 137.8L68.9 134.6Z" fill="#d42a14"/><path d="M73.5 137.8L67.6 138.8L68.3 134.8Z" fill="#8e1410"/><path d="M73 139.9L69.7 137.2L72.3 135.7Z" fill="#8e1410"/><path d="M78.1 134.7L77.5 138.3L75.3 137.1Z" fill="#ee7a22"/><path d="M83.6 134.4L84.9 137.9L82.3 137.9Z" fill="#cdf23c"/><path d="M88.5 134.4L89.8 137.9L87.2 137.9Z" fill="#cdf23c"/><path d="M94.2 130L95.5 133.5L92.9 133.5Z" fill="#9af270"/><path d="M99 133.6L100.3 137.1L97.7 137.1Z" fill="#9af270"/><path d="M104 131.2L105.3 134.7L102.7 134.7Z" fill="#3a56f0"/><path d="M109 132L108.4 135.6L106.2 134.4Z" fill="#3a56f0"/><path d="M112.6 136.5L109.1 137.8L109.1 135.2Z" fill="#66f0f0"/><path d="M103.5 139.3L107 138L107 140.6Z" fill="#3a56f0"/><path d="M62 133.7L63.3 137.2L60.7 137.2Z" fill="#ee7a22"/><path d="M48 134.9L49.3 138.4L46.7 138.4Z" fill="#cdf23c"/><path d="M321.1 67.5L317.6 68.8L317.6 66.2Z" fill="#3a56f0"/><path d="M348.7 67.7L345.8 65.3L348 64.1Z" fill="#3a56f0"/><path d="M343.2 72L340.4 69.6L342.6 68.4Z" fill="#3a56f0"/><path d="M320.3 74.7L316.8 76L316.8 73.4Z" fill="#3a56f0"/><path d="M322.9 83.5L319.4 84.8L319.4 82.2Z" fill="#3a56f0"/><path d="M321.6 87.5L318.1 88.8L318.1 86.2Z" fill="#3a56f0"/><path d="M321.1 91.6L317.6 92.9L317.6 90.3Z" fill="#3a56f0"/><path d="M310.9 94.8L307.4 96.1L307.4 93.5Z" fill="#3a56f0"/><path d="M320.3 101.4L316.8 102.7L316.8 100.1Z" fill="#3a56f0"/><path d="M344.1 94.4L341.2 92L343.4 90.8Z" fill="#3a56f0"/><path d="M304.1 123.6L300.6 124.9L300.6 122.3Z" fill="#9af270"/><path d="M302.9 133.2L297.2 135.3L297.2 131.1Z" fill="#d42a14"/><path d="M302.9 133.7L299.5 137.8L297.7 134.6Z" fill="#d42a14"/><path d="M302.3 137.8L296.4 138.8L297.1 134.8Z" fill="#8e1410"/><path d="M301.7 139.9L298.4 137.2L301 135.7Z" fill="#8e1410"/><path d="M280.7 134.9L282 138.4L279.4 138.4Z" fill="#ee7a22"/><path d="M283.5 133.9L284.8 137.4L282.2 137.4Z" fill="#e4b234"/><path d="M309.5 132.9L305.8 132.9L306.6 130.5Z" fill="#e4b234"/><path d="M314 132.8L315.3 136.3L312.7 136.3Z" fill="#cdf23c"/><path d="M318.5 132.9L319.8 136.4L317.2 136.4Z" fill="#9af270"/><path d="M339.9 125.7L338 122.4L340.5 122Z" fill="#56a8f6"/><path d="M328.9 131.4L330.2 134.9L327.6 134.9Z" fill="#66f0f0"/><path d="M336.6 134.4L335.9 138L333.7 136.8Z" fill="#3a56f0"/><path d="M333.6 132.8L330.7 130.4L332.9 129.2Z" fill="#3a56f0"/><path d="M336.4 138.8L339.9 137.5L339.9 140.1Z" fill="#3a56f0"/><path d="M549.9 64L546.4 65.3L546.4 62.7Z" fill="#3a56f0"/><path d="M575.6 68.5L572.8 66.1L575 64.9Z" fill="#3a56f0"/><path d="M549.1 70.7L545.6 72L545.6 69.4Z" fill="#3a56f0"/><path d="M551.3 81.4L547.8 82.7L547.8 80.1Z" fill="#3a56f0"/><path d="M541.9 84L538.4 85.3L538.4 82.7Z" fill="#3a56f0"/><path d="M563.5 85.3L560.7 82.9L562.9 81.7Z" fill="#3a56f0"/><path d="M543.8 88L540.3 89.3L540.3 86.7Z" fill="#3a56f0"/><path d="M539.2 92.1L535.7 93.4L535.7 90.8Z" fill="#3a56f0"/><path d="M541.9 96.9L538.4 98.2L538.4 95.6Z" fill="#3a56f0"/><path d="M544.6 118.3L541.1 119.6L541.1 117Z" fill="#66f0f0"/><path d="M550.2 117.4L547.4 115L549.6 113.8Z" fill="#56a8f6"/><path d="M536.6 123.6L533.1 124.9L533.1 122.3Z" fill="#9af270"/><path d="M542.9 128L540.5 130.8L539.3 128.6Z" fill="#9af270"/><path d="M528.4 132.9L524.7 132.9L525.5 130.5Z" fill="#ee7a22"/><path d="M529.2 134L523.9 135.9L523.9 132.1Z" fill="#d42a14"/><path d="M528.4 137.2L522.7 139.3L522.7 135.1Z" fill="#8e1410"/><path d="M529 133.9L528.1 139.1L524.9 137.3Z" fill="#8e1410"/><path d="M518.9 136.2L523.8 136.2L522.7 139.4Z" fill="#d42a14"/><path d="M531.4 136.7L526.8 136.7L527.9 133.7Z" fill="#d42a14"/><path d="M537.1 135.4L538.4 138.9L535.8 138.9Z" fill="#cdf23c"/><path d="M543.8 135.4L545.1 138.9L542.5 138.9Z" fill="#9af270"/><path d="M511.7 135.9L513 139.4L510.4 139.4Z" fill="#ee7a22"/><path d="M506.4 135.9L507.7 139.4L505.1 139.4Z" fill="#cdf23c"/><path d="M568.9 126L566.1 123.6L568.3 122.4Z" fill="#56a8f6"/><path d="M553.2 130.6L554.5 134.1L551.9 134.1Z" fill="#66f0f0"/><path d="M562.2 133.1L561.6 136.7L559.4 135.5Z" fill="#3a56f0"/><path d="M567.3 138L563.8 139.3L563.8 136.7Z" fill="#66f0f0"/><path d="M553.4 138.8L556.9 137.5L556.9 140.1Z" fill="#3a56f0"/>
<path d="M210.1 37.8L203.8 40.1L203.8 35.5Z" fill="#66f0f0"/><path d="M222.9 50.8L217 49.8L219.1 46.2Z" fill="#66f0f0"/><path d="M206.2 48.6L199.9 50.9L199.9 46.3Z" fill="#cdf23c"/><path d="M211.1 52.5L204.8 54.8L204.8 50.2Z" fill="#cdf23c"/><path d="M205 55.9L198.3 58.3L198.3 53.5Z" fill="#e4b234"/><path d="M199.4 60L190.7 63.2L190.7 56.8Z" fill="#d42a14"/><path d="M200 60.5L195.4 65.9L193 61.7Z" fill="#d42a14"/><path d="M198.9 66.9L190.2 68.4L191.3 62.4Z" fill="#8e1410"/><path d="M199.2 69.7L193.4 67.6L196.1 64.4Z" fill="#8e1410"/><path d="M205.4 61.9L204.2 68.9L200 66.5Z" fill="#e4b234"/><path d="M171 66.1L177.7 63.7L177.7 68.5Z" fill="#ee7a22"/><path d="M158.8 64.7L161.2 71.4L156.4 71.4Z" fill="#cdf23c"/><path d="M218.1 65.4L211.4 67.8L211.4 63Z" fill="#cdf23c"/><path d="M225.4 63.2L220.8 68.6L218.4 64.4Z" fill="#cdf23c"/><path d="M197.8 71L192.5 72.9L192.5 69.1Z" fill="#66f0f0"/><path d="M207.7 75.1L211.6 75.1L210.7 77.7Z" fill="#3a56f0"/><path d="M431.3 46.6L425 48.9L425 44.3Z" fill="#9af270"/><path d="M439.3 57.7L432.6 60.1L432.6 55.3Z" fill="#cdf23c"/><path d="M428.5 59.5L421 62.2L421 56.8Z" fill="#ee7a22"/><path d="M427.7 65L419 68.2L419 61.8Z" fill="#8e1410"/><path d="M425.8 70.4L418.7 70.4L420.3 65.8Z" fill="#d42a14"/><path d="M421 74L419.5 69.8L422.5 69.8Z" fill="#ee7a22"/><path d="M439.2 63.1L438 70.1L433.8 67.7Z" fill="#cdf23c"/><path d="M449.3 65.1L442.7 63.9L445 59.9Z" fill="#cdf23c"/><path d="M453.8 64.4L450 69L447.9 65.4Z" fill="#cdf23c"/><path d="M442.8 67.8L448.8 67.8L447.4 71.7Z" fill="#56a8f6"/><path d="M388.2 63.5L393.9 68.2L389.5 70.8Z" fill="#e4b234"/><path d="M392.2 62.5L397.9 67.2L393.5 69.8Z" fill="#ee7a22"/><path d="M395.8 64.2L400.6 69.8L395.8 71.6Z" fill="#e4b234"/><path d="M427.3 81.8L423.6 83.1L423.6 80.5Z" fill="#3a56f0"/><path d="M677.8 37.8L671.5 40.1L671.5 35.5Z" fill="#66f0f0"/><path d="M667 46.6L660.7 48.9L660.7 44.3Z" fill="#9af270"/><path d="M675.3 56.3L668.7 55.1L671 51.1Z" fill="#9af270"/><path d="M655.4 60.2L646.5 60.2L648.6 54.5Z" fill="#ee7a22"/><path d="M641.2 63.4L648.3 63.4L646.7 68Z" fill="#d42a14"/><path d="M638.7 73.1L640 65.8L644.4 68.4Z" fill="#d42a14"/><path d="M656.5 67L648.2 70L648.2 64Z" fill="#8e1410"/><path d="M661.3 67.7L654 66.4L656.6 62Z" fill="#d42a14"/><path d="M668.2 62.6L667 69.6L662.8 67.2Z" fill="#cdf23c"/><path d="M678 62.6L676.8 69.6L672.6 67.2Z" fill="#cdf23c"/><path d="M626.1 63.9L628.7 70.9L623.5 70.9Z" fill="#ee7a22"/><path d="M619.3 65.8L621.9 72.8L616.7 72.8Z" fill="#cdf23c"/><path d="M654.4 73.6L648.7 75.7L648.7 71.5Z" fill="#56a8f6"/><path d="M654.4 78.8L650.4 80.3L650.4 77.3Z" fill="#2424b8"/>
<rect x="37.9" y="115.6" width="53" height="33.6" fill="none" stroke="#333" stroke-width="1.3"/>
<rect x="268.2" y="115.6" width="53" height="33.4" fill="none" stroke="#333" stroke-width="1.3"/>
<rect x="493.7" y="116.4" width="53" height="33.8" fill="none" stroke="#333" stroke-width="1.3"/>
<text x="-0.3" y="172.4" font-size="19" textLength="23.2" lengthAdjust="spacingAndGlyphs">(d)</text>
<clipPath id="cd"><rect x="23" y="166" width="205" height="122.6"/></clipPath>
<rect x="23" y="166" width="205" height="122.6" fill="#a7a7a7"/>
<g clip-path="url(#cd)"><g fill="none" stroke="#bababa" stroke-linecap="round" stroke-linejoin="round" filter="url(#bl3)" stroke-width="1.6"><path d="M34.2 192.6L41.1 201.9L57.7 180" stroke-width="2" stroke="#cccccc"/><path d="M38 190L46 197M44 186L51 190M40 183L44 188" stroke-width="1" stroke="#bcbcbc"/><path d="M39 205Q31 228 30 251Q28 270 26.6 289"/><path d="M80 181Q79 205 76 228Q73 240 69 244"/><path d="M69 244Q71 262 76 283M76 283L97.6 265.3" stroke="#c8c8c8" stroke-width="1.8"/><path d="M65.6 241L67 236" stroke-width="2.4" stroke="#dddddd"/><path d="M104.7 182Q108 195 115 199Q128 196 147 204"/><path d="M157 183Q152 210 147 235Q143 255 140 272"/><path d="M179.3 196Q195 194 207.7 197.8Q218 205 219 216Q218 235 210 248"/><path d="M118.9 261.7Q130 262 140.2 265.3Q150 270 153 289" stroke="#b6b6b6"/><path d="M186 182Q183 200 176 212" stroke="#b4b4b4" stroke-width="1.2"/><path d="M111 191L128 203M119 230L126 255" stroke="#b4b4b4" stroke-width="1.2"/></g></g>
<path d="M23 166H228V180L228 180.5L226.4 180.5L224.8 179.3L223.2 179.3L221.6 180.4L220 180.2L218.4 180.1L216.8 179.6L215.2 180L213.6 180L212 180L210.4 179.4L208.8 179.8L207.2 179.8L205.6 180.2L204 180.6L202.4 180.5L200.8 180L199.2 179.8L197.6 179.6L196 179.3L194.4 179.2L192.8 179.9L191.2 179.6L189.6 179.7L188 180.4L186.4 179.9L184.8 180L183.2 179.5L181.6 179.2L180 179.7L178.4 179.4L176.8 179.9L175.2 180.6L173.6 180.1L172 179.5L170.4 180.5L168.8 180.3L167.2 180.2L165.6 180.5L164 180.3L162.4 180.3L160.8 179.7L159.2 180.6L157.6 180.5L156 179.4L154.4 180.3L152.8 180.2L151.2 179.8L149.6 179.9L148 179.9L146.4 180.5L144.8 179.9L143.2 180.4L141.6 179.7L140 180.4L138.4 180.5L136.8 179.8L135.2 180L133.6 180.5L132 180.2L130.4 179.9L128.8 179.5L127.2 179.7L125.6 180.2L124 179.4L122.4 180.5L120.8 179.6L119.2 180.5L117.6 179.6L116 180.5L114.4 180.8L112.8 180.5L111.2 180.5L109.6 180.7L108 180.6L106.4 180.2L104.8 179.5L103.2 179.9L101.6 180.5L100 180.1L98.4 179.3L96.8 180.3L95.2 180.2L93.6 180.5L92 179.5L90.4 180.8L88.8 179.9L87.2 180.7L85.6 180.2L84 180.1L82.4 181L80.8 179.9L79.2 180.5L77.6 181L76 180.1L74.4 179.5L72.8 180.4L71.2 179.8L69.6 180.2L68 179.2L66.4 179.7L64.8 179.4L63.2 180.1L61.6 179.3L60 180.5L58.4 179.2L56.8 180.2L55.2 179.2L53.6 179.6L52 180.3L50.4 179.4L48.8 179.5L47.2 180.2L45.6 179.7L44 179.3L42.4 180.6L40.8 179.4L39.2 179.3L37.6 179.7L36 180.1L34.4 180.2L32.8 179.4L31.2 179.7L29.6 179.2L28 179.8L26.4 180.3L24.8 180.2L23.2 180.5L23 179.6Z" fill="#060606"/>
<text x="158.2" y="272.3" font-size="20.6" fill="#fff" textLength="61.9" lengthAdjust="spacingAndGlyphs">25 µm</text>
<rect x="177.1" y="279.4" width="40.3" height="2.2" fill="#fff"/>
<text x="96.6" y="306.4" font-size="19.2">After 72h</text>
<text x="227.7" y="174.4" font-size="19" textLength="23.2" lengthAdjust="spacingAndGlyphs">(e)</text>
<clipPath id="ce"><rect x="251" y="166" width="205.3" height="122.6"/></clipPath>
<rect x="251" y="166" width="205.3" height="122.6" fill="#9f9f9f"/>
<g clip-path="url(#ce)"><path d="M251 181H456V188H251Z" fill="#a8a8a8" filter="url(#bl)"/><g filter="url(#bl2)"><path d="M251 182H330L325 200L290 215L251 220Z" fill="#a6a6a6"/><path d="M285 289L310 250L330 215L345 200L360 190L375 200L350 230L325 265L312 289Z" fill="#969696" opacity="0.8"/><path d="M330 289L350 250L370 220L400 190L430 185L420 205L390 230L365 260L355 289Z" fill="#a6a6a6" opacity="0.8"/><path d="M400 230L456 215V289H395Z" fill="#9b9b9b" opacity="0.6"/></g><g fill="none" stroke="#cfcfcf" stroke-linecap="round" filter="url(#bl3)"><path d="M274.7 194.4L278.4 189M280 190L288 183" stroke-width="1.6"/><path d="M327 232L334 222" stroke-width="2" stroke="#d8d8d8"/><path d="M317.5 267.2L326.3 259.4L329.3 262.3L341 257.4" stroke-width="2.4" stroke="#dcdcdc"/><path d="M298 290L312 262L329 230L338 212" stroke-width="3" stroke="#acacac"/><path d="M363 216Q380 200 401 182.5" stroke-width="3" stroke="#b0b0b0"/><path d="M367 182L381 194M404.5 276L423 263" stroke-width="1.3" stroke="#c8c8c8"/><path d="M333 210.8L338.6 221.8" stroke-width="1.4" stroke="#bcbcbc"/></g><g fill="#eeeeee" filter="url(#bl)"><circle cx="349.5" cy="225.4" r="1.8"/><circle cx="387" cy="198" r="1.6"/><circle cx="306.8" cy="272" r="1.1"/><circle cx="337" cy="186.8" r="1.4"/><circle cx="267.6" cy="201.5" r="0.9"/></g><circle cx="322.3" cy="198.5" r="1.3" fill="#808080"/></g>
<path d="M251 166H456.3V181.5L447 181.5L444.5 184.6L441 182L400 181.4L360 182L350 183.2L340 182.6L300 181.6L290 180.6L251 180.2Z" fill="#060606"/>
<text x="389.3" y="273.5" font-size="20.6" fill="#fff" textLength="62.2" lengthAdjust="spacingAndGlyphs">25 µm</text>
<rect x="409.3" y="280" width="39.6" height="2.2" fill="#fff"/>
<text x="320.1" y="306.4" font-size="19.2">After 157h</text>
<text x="456.2" y="175.6" font-size="19" textLength="23.2" lengthAdjust="spacingAndGlyphs">(f)</text>
<clipPath id="cf"><rect x="479" y="166" width="206" height="122.6"/></clipPath>
<rect x="479" y="166" width="206" height="122.6" fill="#838383"/>
<g clip-path="url(#cf)"><g fill="none" stroke="#a8a8a8" stroke-linecap="round" filter="url(#bl)"><path d="M536 219L558 218.5M540 252L556 250L581 248.5" stroke-width="2" /><path d="M482 195L484 240L483 270" stroke-width="3" stroke="#8e8e8e"/><path d="M560 205L575 210" stroke-width="1" stroke="#959595"/><path d="M600 195Q602 225 596 262" stroke-width="4" stroke="#8a8a8a"/><path d="M486 230L489 238" stroke-width="1.6" stroke="#c0c0c0"/></g><g fill="#ececec" filter="url(#bl)"><path d="M597 262L602 259L605 268L601 276L598 271Z"/><path d="M604 272L611 274L610 280L604 279Z"/><path d="M545 285L553 282L560 284L568 289H544Z" opacity="0.85"/><circle cx="640" cy="230" r="1" /><circle cx="593" cy="268" r="1.2"/></g></g>
<path d="M479 166H685V181.5L645 182Q642 193.5 630 194L620 193.5L612 188L604 182L600 184L596 190L588 190.5L580 188.5L570 187.2L552.5 187.8Q548 194.5 538.4 194.5Q529 194 523.6 182.5L510 181.1L497 181.4L492 182.4L490 187.5L479 187.5Z" fill="#060606"/>
<text x="614.5" y="270.5" font-size="20.6" fill="#fff" textLength="62.2" lengthAdjust="spacingAndGlyphs">25 µm</text>
<rect x="634.3" y="277.1" width="39.9" height="2.2" fill="#fff"/>
<text x="553" y="306.4" font-size="19.2">After 230h</text>
<path d="M582.3 184.5L583 177L590 176L600 176.5L601.5 181L598 186L592 187.5L586 186.5Z" fill="#a9a9a9"/>
<path d="M600 177.5L604 178L612 184L620 192.5L617 193L608 186L601 181Z" fill="#a2a2a2"/>
<path d="M628 186L632 184L636 185L634 188Z" fill="#1e1e1e" filter="url(#bl)"/>
<g fill="#b8b8b8" filter="url(#bl)"><path d="M534.4 182.4L541 182L541 184L534.4 184.4Z"/><path d="M547 179L553 179.4L553 181L547 180.8Z"/><path d="M524 182L529.7 181.6L529.7 183.4L524 183.6Z"/><path d="M560 182L565 181L566 183.5Z"/><path d="M497 182.6L500 181.4L502 183Z"/></g>
<circle cx="160.3" cy="181.6" r="2.4" fill="#111"/>
<text x="124.7" y="232.2" font-size="18.8" fill="#f2f21e" stroke="#f2f21e" stroke-width="0.25" textLength="96.8" lengthAdjust="spacingAndGlyphs">Al-Si phase</text>
<line x1="164.7" y1="186" x2="173.1" y2="206.9" stroke="#f2f21e" stroke-width="2.0"/>
<polygon points="175.7,213.4 169.8,208.2 176.3,205.6" fill="#f2f21e"/>
<text x="357.5" y="227.4" font-size="18.8" fill="#f2f21e" stroke="#f2f21e" stroke-width="0.25" textLength="97.4" lengthAdjust="spacingAndGlyphs">Al-Si phase</text>
<line x1="335.7" y1="187.2" x2="352.4" y2="209.5" stroke="#f2f21e" stroke-width="2.0"/>
<polygon points="356.6,215.1 349.6,211.6 355.2,207.4" fill="#f2f21e"/>
<text x="583.4" y="233.2" font-size="18.8" fill="#f2f21e" stroke="#f2f21e" stroke-width="0.25" textLength="97.3" lengthAdjust="spacingAndGlyphs">Al-Si phase</text>
<line x1="596.5" y1="198.5" x2="607.8" y2="208.9" stroke="#f2f21e" stroke-width="2.0"/>
<polygon points="612.9,213.6 605.4,211.4 610.1,206.3" fill="#f2f21e"/>
</svg></body></html>
